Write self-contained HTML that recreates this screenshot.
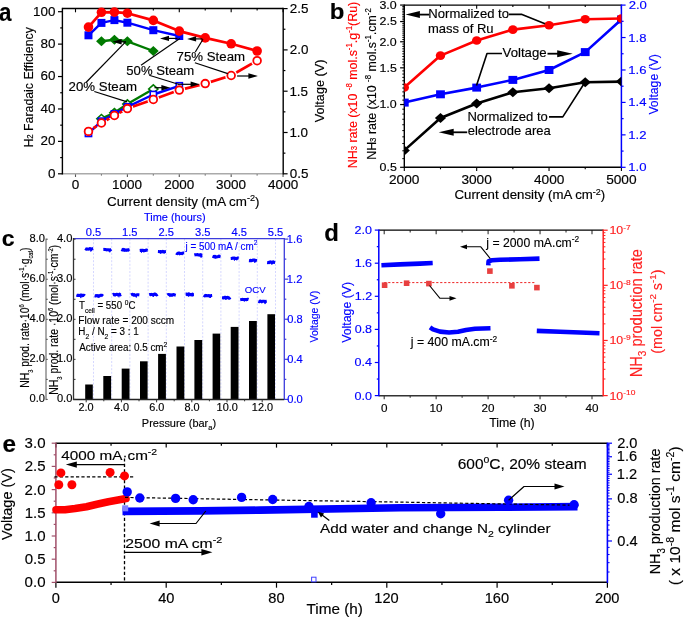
<!DOCTYPE html>
<html><head><meta charset="utf-8"><style>
html,body{margin:0;padding:0;background:#fff;width:685px;height:617px;overflow:hidden}
svg{display:block;filter:blur(0.3px)}
text{font-family:"Liberation Sans",sans-serif}
</style></head><body>
<svg width="685" height="617" viewBox="0 0 685 617">
<rect width="685" height="617" fill="#fff"/>
<line x1="58" y1="173.8" x2="62.4" y2="173.8" stroke="#000" stroke-width="1.2" stroke-linecap="butt"/>
<line x1="60.2" y1="157.59" x2="62.4" y2="157.59" stroke="#000" stroke-width="1.2" stroke-linecap="butt"/>
<line x1="58" y1="141.38" x2="62.4" y2="141.38" stroke="#000" stroke-width="1.2" stroke-linecap="butt"/>
<line x1="60.2" y1="125.17" x2="62.4" y2="125.17" stroke="#000" stroke-width="1.2" stroke-linecap="butt"/>
<line x1="58" y1="108.96" x2="62.4" y2="108.96" stroke="#000" stroke-width="1.2" stroke-linecap="butt"/>
<line x1="60.2" y1="92.75" x2="62.4" y2="92.75" stroke="#000" stroke-width="1.2" stroke-linecap="butt"/>
<line x1="58" y1="76.54" x2="62.4" y2="76.54" stroke="#000" stroke-width="1.2" stroke-linecap="butt"/>
<line x1="60.2" y1="60.33" x2="62.4" y2="60.33" stroke="#000" stroke-width="1.2" stroke-linecap="butt"/>
<line x1="58" y1="44.12" x2="62.4" y2="44.12" stroke="#000" stroke-width="1.2" stroke-linecap="butt"/>
<line x1="60.2" y1="27.91" x2="62.4" y2="27.91" stroke="#000" stroke-width="1.2" stroke-linecap="butt"/>
<line x1="58" y1="11.7" x2="62.4" y2="11.7" stroke="#000" stroke-width="1.2" stroke-linecap="butt"/>
<line x1="283.2" y1="173.8" x2="287.6" y2="173.8" stroke="#000" stroke-width="1.2" stroke-linecap="butt"/>
<line x1="283.2" y1="153.15" x2="285.4" y2="153.15" stroke="#000" stroke-width="1.2" stroke-linecap="butt"/>
<line x1="283.2" y1="132.5" x2="287.6" y2="132.5" stroke="#000" stroke-width="1.2" stroke-linecap="butt"/>
<line x1="283.2" y1="111.85" x2="285.4" y2="111.85" stroke="#000" stroke-width="1.2" stroke-linecap="butt"/>
<line x1="283.2" y1="91.2" x2="287.6" y2="91.2" stroke="#000" stroke-width="1.2" stroke-linecap="butt"/>
<line x1="283.2" y1="70.55" x2="285.4" y2="70.55" stroke="#000" stroke-width="1.2" stroke-linecap="butt"/>
<line x1="283.2" y1="49.9" x2="287.6" y2="49.9" stroke="#000" stroke-width="1.2" stroke-linecap="butt"/>
<line x1="283.2" y1="29.25" x2="285.4" y2="29.25" stroke="#000" stroke-width="1.2" stroke-linecap="butt"/>
<line x1="283.2" y1="8.6" x2="287.6" y2="8.6" stroke="#000" stroke-width="1.2" stroke-linecap="butt"/>
<line x1="75.5" y1="173.8" x2="75.5" y2="177" stroke="#555" stroke-width="1.1" stroke-linecap="butt"/>
<line x1="75.5" y1="8.5" x2="75.5" y2="12.3" stroke="#000" stroke-width="1.1" stroke-linecap="butt"/>
<line x1="101.44" y1="173.8" x2="101.44" y2="175.6" stroke="#555" stroke-width="1.1" stroke-linecap="butt"/>
<line x1="101.44" y1="8.5" x2="101.44" y2="10.5" stroke="#000" stroke-width="1.1" stroke-linecap="butt"/>
<line x1="127.39" y1="173.8" x2="127.39" y2="177" stroke="#555" stroke-width="1.1" stroke-linecap="butt"/>
<line x1="127.39" y1="8.5" x2="127.39" y2="12.3" stroke="#000" stroke-width="1.1" stroke-linecap="butt"/>
<line x1="153.33" y1="173.8" x2="153.33" y2="175.6" stroke="#555" stroke-width="1.1" stroke-linecap="butt"/>
<line x1="153.33" y1="8.5" x2="153.33" y2="10.5" stroke="#000" stroke-width="1.1" stroke-linecap="butt"/>
<line x1="179.28" y1="173.8" x2="179.28" y2="177" stroke="#555" stroke-width="1.1" stroke-linecap="butt"/>
<line x1="179.28" y1="8.5" x2="179.28" y2="12.3" stroke="#000" stroke-width="1.1" stroke-linecap="butt"/>
<line x1="205.22" y1="173.8" x2="205.22" y2="175.6" stroke="#555" stroke-width="1.1" stroke-linecap="butt"/>
<line x1="205.22" y1="8.5" x2="205.22" y2="10.5" stroke="#000" stroke-width="1.1" stroke-linecap="butt"/>
<line x1="231.17" y1="173.8" x2="231.17" y2="177" stroke="#555" stroke-width="1.1" stroke-linecap="butt"/>
<line x1="231.17" y1="8.5" x2="231.17" y2="12.3" stroke="#000" stroke-width="1.1" stroke-linecap="butt"/>
<line x1="257.12" y1="173.8" x2="257.12" y2="175.6" stroke="#555" stroke-width="1.1" stroke-linecap="butt"/>
<line x1="257.12" y1="8.5" x2="257.12" y2="10.5" stroke="#000" stroke-width="1.1" stroke-linecap="butt"/>
<line x1="283.06" y1="173.8" x2="283.06" y2="177" stroke="#555" stroke-width="1.1" stroke-linecap="butt"/>
<line x1="283.06" y1="8.5" x2="283.06" y2="12.3" stroke="#000" stroke-width="1.1" stroke-linecap="butt"/>
<line x1="62.4" y1="173.8" x2="283.2" y2="173.8" stroke="#aaa" stroke-width="1.4" stroke-linecap="butt"/>
<line x1="62.4" y1="7.8" x2="62.4" y2="174.5" stroke="#000" stroke-width="1.4" stroke-linecap="butt"/>
<line x1="62.4" y1="8.5" x2="283.2" y2="8.5" stroke="#000" stroke-width="1.4" stroke-linecap="butt"/>
<line x1="283.2" y1="7.8" x2="283.2" y2="174.5" stroke="#000" stroke-width="1.4" stroke-linecap="butt"/>
<text transform="translate(48.01 177.68) scale(1.050 1)" font-size="12.80" stroke="#000" stroke-width="0.15"><tspan>0</tspan></text>
<text transform="translate(40.55 145.26) scale(1.050 1)" font-size="12.80" stroke="#000" stroke-width="0.15"><tspan>20</tspan></text>
<text transform="translate(40.55 112.84) scale(1.050 1)" font-size="12.80" stroke="#000" stroke-width="0.15"><tspan>40</tspan></text>
<text transform="translate(40.55 80.42) scale(1.050 1)" font-size="12.80" stroke="#000" stroke-width="0.15"><tspan>60</tspan></text>
<text transform="translate(40.55 48.00) scale(1.050 1)" font-size="12.80" stroke="#000" stroke-width="0.15"><tspan>80</tspan></text>
<text transform="translate(33.09 15.58) scale(1.050 1)" font-size="12.80" stroke="#000" stroke-width="0.15"><tspan>100</tspan></text>
<text transform="translate(289.86 178.28) scale(1.050 1)" font-size="12.80" stroke="#000" stroke-width="0.15"><tspan>0.5</tspan></text>
<text transform="translate(289.39 136.98) scale(1.050 1)" font-size="12.80" stroke="#000" stroke-width="0.15"><tspan>1.0</tspan></text>
<text transform="translate(289.39 95.68) scale(1.050 1)" font-size="12.80" stroke="#000" stroke-width="0.15"><tspan>1.5</tspan></text>
<text transform="translate(289.73 54.38) scale(1.050 1)" font-size="12.80" stroke="#000" stroke-width="0.15"><tspan>2.0</tspan></text>
<text transform="translate(289.73 13.08) scale(1.050 1)" font-size="12.80" stroke="#000" stroke-width="0.15"><tspan>2.5</tspan></text>
<text transform="translate(71.71 188.91) scale(1.100 1)" font-size="12.30" stroke="#000" stroke-width="0.15"><tspan>0</tspan></text>
<text transform="translate(112.07 188.91) scale(1.100 1)" font-size="12.30" stroke="#000" stroke-width="0.15"><tspan>1000</tspan></text>
<text transform="translate(164.13 188.91) scale(1.100 1)" font-size="12.30" stroke="#000" stroke-width="0.15"><tspan>2000</tspan></text>
<text transform="translate(216.08 188.91) scale(1.100 1)" font-size="12.30" stroke="#000" stroke-width="0.15"><tspan>3000</tspan></text>
<text transform="translate(268.11 188.91) scale(1.100 1)" font-size="12.30" stroke="#000" stroke-width="0.15"><tspan>4000</tspan></text>
<text transform="translate(106.98 206.00) scale(0.983 1)" font-size="13.64" stroke="#000" stroke-width="0.15"><tspan>Current density (mA cm</tspan><tspan font-size="9.28" dy="-5.18">-2</tspan><tspan dy="5.18">)</tspan></text>
<text transform="translate(32.90 147.54) rotate(-90) scale(0.942 1)" font-size="13.07" stroke="#000" stroke-width="0.15"><tspan>H</tspan><tspan font-size="8.23" dy="0.00">2</tspan><tspan> Faradaic Efficiency</tspan></text>
<text transform="translate(324.10 122.31) rotate(-90) scale(0.961 1)" font-size="13.21" stroke="#000" stroke-width="0.15"><tspan>Voltage (V)</tspan></text>
<text transform="translate(-1.02 21.30) scale(0.884 1)" font-size="25.37" font-weight="bold" stroke="#000" stroke-width="0.15"><tspan>a</tspan></text>
<polyline points="101.44,41.3 114.42,39.7 127.39,41.3 153.33,51" fill="none" stroke="#007a00" stroke-width="2.4" stroke-linejoin="round" stroke-linecap="butt"/>
<polyline points="101.44,118.7 114.42,112.8 127.39,104 153.33,89" fill="none" stroke="#007a00" stroke-width="2.4" stroke-linejoin="round" stroke-linecap="butt"/>
<polygon points="101.44,36.3 106.84,41.3 101.44,46.3 96.04,41.3" fill="#007a00" stroke="none" stroke-width="0"/>
<polygon points="114.42,34.7 119.82,39.7 114.42,44.7 109.02,39.7" fill="#007a00" stroke="none" stroke-width="0"/>
<polygon points="127.39,36.3 132.79,41.3 127.39,46.3 121.99,41.3" fill="#007a00" stroke="none" stroke-width="0"/>
<polygon points="153.33,46 158.73,51 153.33,56 147.93,51" fill="#007a00" stroke="none" stroke-width="0"/>
<polygon points="101.44,114.5 106.04,118.7 101.44,122.9 96.84,118.7" fill="#fff" stroke="#007a00" stroke-width="1.6"/>
<polygon points="114.42,108.6 119.02,112.8 114.42,117 109.82,112.8" fill="#fff" stroke="#007a00" stroke-width="1.6"/>
<polygon points="127.39,99.8 131.99,104 127.39,108.2 122.79,104" fill="#fff" stroke="#007a00" stroke-width="1.6"/>
<polygon points="153.33,84.8 157.93,89 153.33,93.2 148.73,89" fill="#fff" stroke="#007a00" stroke-width="1.6"/>
<polyline points="88.47,35.3 101.44,22.9 114.42,20.1 127.39,22.7 153.33,30.2 179.28,36" fill="none" stroke="#0000ff" stroke-width="2.4" stroke-linejoin="round" stroke-linecap="butt"/>
<polyline points="88.47,133.4 101.44,121.2 114.42,114 127.39,106.8 153.33,94.5 179.28,85.8" fill="none" stroke="#0000ff" stroke-width="2.4" stroke-linejoin="round" stroke-linecap="butt"/>
<rect x="84.47" y="31.3" width="8" height="8" fill="#0000ff" stroke="none" stroke-width="0"/>
<rect x="97.44" y="18.9" width="8" height="8" fill="#0000ff" stroke="none" stroke-width="0"/>
<rect x="110.42" y="16.1" width="8" height="8" fill="#0000ff" stroke="none" stroke-width="0"/>
<rect x="123.39" y="18.7" width="8" height="8" fill="#0000ff" stroke="none" stroke-width="0"/>
<rect x="149.33" y="26.2" width="8" height="8" fill="#0000ff" stroke="none" stroke-width="0"/>
<rect x="175.28" y="32" width="8" height="8" fill="#0000ff" stroke="none" stroke-width="0"/>
<rect x="85.37" y="130.3" width="6.2" height="6.2" fill="#fff" stroke="#0000ff" stroke-width="1.6"/>
<rect x="98.34" y="118.1" width="6.2" height="6.2" fill="#fff" stroke="#0000ff" stroke-width="1.6"/>
<rect x="111.32" y="110.9" width="6.2" height="6.2" fill="#fff" stroke="#0000ff" stroke-width="1.6"/>
<rect x="124.29" y="103.7" width="6.2" height="6.2" fill="#fff" stroke="#0000ff" stroke-width="1.6"/>
<rect x="150.23" y="91.4" width="6.2" height="6.2" fill="#fff" stroke="#0000ff" stroke-width="1.6"/>
<rect x="176.18" y="82.7" width="6.2" height="6.2" fill="#fff" stroke="#0000ff" stroke-width="1.6"/>
<polyline points="88.47,27.1 101.44,12.3 114.42,12.1 127.39,13.2 153.33,20.4 179.28,31.1 205.22,37.9 231.17,43.8 257.12,51" fill="none" stroke="#ff0000" stroke-width="2.7" stroke-linejoin="round" stroke-linecap="butt"/>
<mask id="mro" maskUnits="userSpaceOnUse" x="0" y="0" width="685" height="617"><rect x="0" y="0" width="685" height="617" fill="#fff"/><circle cx="88.47" cy="131.4" r="6" fill="#000"/><circle cx="101.44" cy="123" r="6" fill="#000"/><circle cx="114.42" cy="115.5" r="6" fill="#000"/><circle cx="127.39" cy="108.6" r="6" fill="#000"/><circle cx="153.33" cy="99.5" r="6" fill="#000"/><circle cx="179.28" cy="90.1" r="6" fill="#000"/><circle cx="205.22" cy="83.6" r="6" fill="#000"/><circle cx="231.17" cy="75.5" r="6" fill="#000"/><circle cx="257.12" cy="60.7" r="6" fill="#000"/></mask>
<polyline points="88.47,131.4 101.44,123 114.42,115.5 127.39,108.6 153.33,99.5 179.28,90.1 205.22,83.6 231.17,75.5 257.12,60.7" fill="none" stroke="#ff0000" stroke-width="2.7" stroke-linejoin="round" mask="url(#mro)"/>
<circle cx="88.47" cy="27.1" r="4.8" fill="#ff0000" stroke="none" stroke-width="0"/>
<circle cx="101.44" cy="12.3" r="4.8" fill="#ff0000" stroke="none" stroke-width="0"/>
<circle cx="114.42" cy="12.1" r="4.8" fill="#ff0000" stroke="none" stroke-width="0"/>
<circle cx="127.39" cy="13.2" r="4.8" fill="#ff0000" stroke="none" stroke-width="0"/>
<circle cx="153.33" cy="20.4" r="4.8" fill="#ff0000" stroke="none" stroke-width="0"/>
<circle cx="179.28" cy="31.1" r="4.8" fill="#ff0000" stroke="none" stroke-width="0"/>
<circle cx="205.22" cy="37.9" r="4.8" fill="#ff0000" stroke="none" stroke-width="0"/>
<circle cx="231.17" cy="43.8" r="4.8" fill="#ff0000" stroke="none" stroke-width="0"/>
<circle cx="257.12" cy="51" r="4.8" fill="#ff0000" stroke="none" stroke-width="0"/>
<circle cx="88.47" cy="131.4" r="3.85" fill="#fff" stroke="#ff0000" stroke-width="1.8"/>
<circle cx="101.44" cy="123" r="3.85" fill="#fff" stroke="#ff0000" stroke-width="1.8"/>
<circle cx="114.42" cy="115.5" r="3.85" fill="#fff" stroke="#ff0000" stroke-width="1.8"/>
<circle cx="127.39" cy="108.6" r="3.85" fill="#fff" stroke="#ff0000" stroke-width="1.8"/>
<circle cx="153.33" cy="99.5" r="3.85" fill="#fff" stroke="#ff0000" stroke-width="1.8"/>
<circle cx="179.28" cy="90.1" r="3.85" fill="#fff" stroke="#ff0000" stroke-width="1.8"/>
<circle cx="205.22" cy="83.6" r="3.85" fill="#fff" stroke="#ff0000" stroke-width="1.8"/>
<circle cx="231.17" cy="75.5" r="3.85" fill="#fff" stroke="#ff0000" stroke-width="1.8"/>
<circle cx="257.12" cy="60.7" r="3.85" fill="#fff" stroke="#ff0000" stroke-width="1.8"/>
<text transform="translate(68.59 91.00) scale(1.100 1)" font-size="12.07" stroke="#000" stroke-width="0.15"><tspan>20% Steam</tspan></text>
<text transform="translate(126.32 74.90) scale(1.040 1)" font-size="12.64" stroke="#000" stroke-width="0.15"><tspan>50% Steam</tspan></text>
<text transform="translate(176.59 61.00) scale(1.060 1)" font-size="12.50" stroke="#000" stroke-width="0.15"><tspan>75% Steam</tspan></text>
<polyline points="86,82.5 125.6,41.8" fill="none" stroke="#000" stroke-width="1.2" stroke-linejoin="round" stroke-linecap="butt"/>
<line x1="126" y1="41.8" x2="120.6" y2="41.8" stroke="#000" stroke-width="1.2" stroke-linecap="butt"/>
<polygon points="112.6,41.8 121.6,39.1 121.6,44.5" fill="#000" stroke="none" stroke-width="0"/>
<polyline points="94.3,91.5 127.2,101.9" fill="none" stroke="#000" stroke-width="1.2" stroke-linejoin="round" stroke-linecap="butt"/>
<polyline points="141,65.2 179.8,38.4" fill="none" stroke="#000" stroke-width="1.2" stroke-linejoin="round" stroke-linecap="butt"/>
<line x1="177.5" y1="38.4" x2="168" y2="38.4" stroke="#000" stroke-width="1.2" stroke-linecap="butt"/>
<polygon points="160,38.4 169,35.7 169,41.1" fill="#000" stroke="none" stroke-width="0"/>
<polyline points="149.2,75.2 178.4,84.3" fill="none" stroke="#000" stroke-width="1.2" stroke-linejoin="round" stroke-linecap="butt"/>
<line x1="178" y1="84.3" x2="191.6" y2="84.3" stroke="#000" stroke-width="1.2" stroke-linecap="butt"/>
<polygon points="199.6,84.3 190.6,87 190.6,81.6" fill="#000" stroke="none" stroke-width="0"/>
<line x1="154.5" y1="87.7" x2="162.4" y2="87.7" stroke="#000" stroke-width="1.2" stroke-linecap="butt"/>
<polygon points="170.4,87.7 161.4,90.4 161.4,85" fill="#000" stroke="none" stroke-width="0"/>
<polyline points="195.3,52 203,39.2" fill="none" stroke="#000" stroke-width="1.2" stroke-linejoin="round" stroke-linecap="butt"/>
<line x1="202.4" y1="38.9" x2="195.1" y2="38.9" stroke="#000" stroke-width="1.2" stroke-linecap="butt"/>
<polygon points="187.1,38.9 196.1,36.2 196.1,41.6" fill="#000" stroke="none" stroke-width="0"/>
<polyline points="194.9,62.7 227.8,73.6" fill="none" stroke="#000" stroke-width="1.2" stroke-linejoin="round" stroke-linecap="butt"/>
<line x1="237.1" y1="76" x2="249.4" y2="76" stroke="#000" stroke-width="1.2" stroke-linecap="butt"/>
<polygon points="257.9,76 248.4,78.8 248.4,73.2" fill="#000" stroke="none" stroke-width="0"/>
<line x1="400.1" y1="167.3" x2="404.3" y2="167.3" stroke="#000" stroke-width="1.2" stroke-linecap="butt"/>
<line x1="402.3" y1="158.67" x2="404.3" y2="158.67" stroke="#000" stroke-width="1.0" stroke-linecap="butt"/>
<line x1="402.3" y1="150.79" x2="404.3" y2="150.79" stroke="#000" stroke-width="1.0" stroke-linecap="butt"/>
<line x1="402.3" y1="143.54" x2="404.3" y2="143.54" stroke="#000" stroke-width="1.0" stroke-linecap="butt"/>
<line x1="402.3" y1="136.83" x2="404.3" y2="136.83" stroke="#000" stroke-width="1.0" stroke-linecap="butt"/>
<line x1="402.3" y1="130.58" x2="404.3" y2="130.58" stroke="#000" stroke-width="1.0" stroke-linecap="butt"/>
<line x1="402.3" y1="124.74" x2="404.3" y2="124.74" stroke="#000" stroke-width="1.0" stroke-linecap="butt"/>
<line x1="402.3" y1="119.25" x2="404.3" y2="119.25" stroke="#000" stroke-width="1.0" stroke-linecap="butt"/>
<line x1="402.3" y1="114.08" x2="404.3" y2="114.08" stroke="#000" stroke-width="1.0" stroke-linecap="butt"/>
<line x1="402.3" y1="109.18" x2="404.3" y2="109.18" stroke="#000" stroke-width="1.0" stroke-linecap="butt"/>
<line x1="400.1" y1="104.54" x2="404.3" y2="104.54" stroke="#000" stroke-width="1.2" stroke-linecap="butt"/>
<line x1="402.3" y1="100.12" x2="404.3" y2="100.12" stroke="#000" stroke-width="1.0" stroke-linecap="butt"/>
<line x1="402.3" y1="95.9" x2="404.3" y2="95.9" stroke="#000" stroke-width="1.0" stroke-linecap="butt"/>
<line x1="402.3" y1="91.88" x2="404.3" y2="91.88" stroke="#000" stroke-width="1.0" stroke-linecap="butt"/>
<line x1="402.3" y1="88.03" x2="404.3" y2="88.03" stroke="#000" stroke-width="1.0" stroke-linecap="butt"/>
<line x1="402.3" y1="84.33" x2="404.3" y2="84.33" stroke="#000" stroke-width="1.0" stroke-linecap="butt"/>
<line x1="402.3" y1="80.78" x2="404.3" y2="80.78" stroke="#000" stroke-width="1.0" stroke-linecap="butt"/>
<line x1="402.3" y1="77.36" x2="404.3" y2="77.36" stroke="#000" stroke-width="1.0" stroke-linecap="butt"/>
<line x1="402.3" y1="74.07" x2="404.3" y2="74.07" stroke="#000" stroke-width="1.0" stroke-linecap="butt"/>
<line x1="402.3" y1="70.89" x2="404.3" y2="70.89" stroke="#000" stroke-width="1.0" stroke-linecap="butt"/>
<line x1="400.1" y1="67.82" x2="404.3" y2="67.82" stroke="#000" stroke-width="1.2" stroke-linecap="butt"/>
<line x1="402.3" y1="64.85" x2="404.3" y2="64.85" stroke="#000" stroke-width="1.0" stroke-linecap="butt"/>
<line x1="402.3" y1="61.98" x2="404.3" y2="61.98" stroke="#000" stroke-width="1.0" stroke-linecap="butt"/>
<line x1="402.3" y1="59.19" x2="404.3" y2="59.19" stroke="#000" stroke-width="1.0" stroke-linecap="butt"/>
<line x1="402.3" y1="56.49" x2="404.3" y2="56.49" stroke="#000" stroke-width="1.0" stroke-linecap="butt"/>
<line x1="402.3" y1="53.86" x2="404.3" y2="53.86" stroke="#000" stroke-width="1.0" stroke-linecap="butt"/>
<line x1="402.3" y1="51.31" x2="404.3" y2="51.31" stroke="#000" stroke-width="1.0" stroke-linecap="butt"/>
<line x1="402.3" y1="48.83" x2="404.3" y2="48.83" stroke="#000" stroke-width="1.0" stroke-linecap="butt"/>
<line x1="402.3" y1="46.42" x2="404.3" y2="46.42" stroke="#000" stroke-width="1.0" stroke-linecap="butt"/>
<line x1="402.3" y1="44.06" x2="404.3" y2="44.06" stroke="#000" stroke-width="1.0" stroke-linecap="butt"/>
<line x1="400.1" y1="41.77" x2="404.3" y2="41.77" stroke="#000" stroke-width="1.2" stroke-linecap="butt"/>
<line x1="402.3" y1="39.53" x2="404.3" y2="39.53" stroke="#000" stroke-width="1.0" stroke-linecap="butt"/>
<line x1="402.3" y1="37.35" x2="404.3" y2="37.35" stroke="#000" stroke-width="1.0" stroke-linecap="butt"/>
<line x1="402.3" y1="35.22" x2="404.3" y2="35.22" stroke="#000" stroke-width="1.0" stroke-linecap="butt"/>
<line x1="402.3" y1="33.14" x2="404.3" y2="33.14" stroke="#000" stroke-width="1.0" stroke-linecap="butt"/>
<line x1="402.3" y1="31.11" x2="404.3" y2="31.11" stroke="#000" stroke-width="1.0" stroke-linecap="butt"/>
<line x1="402.3" y1="29.11" x2="404.3" y2="29.11" stroke="#000" stroke-width="1.0" stroke-linecap="butt"/>
<line x1="402.3" y1="27.17" x2="404.3" y2="27.17" stroke="#000" stroke-width="1.0" stroke-linecap="butt"/>
<line x1="402.3" y1="25.26" x2="404.3" y2="25.26" stroke="#000" stroke-width="1.0" stroke-linecap="butt"/>
<line x1="402.3" y1="23.39" x2="404.3" y2="23.39" stroke="#000" stroke-width="1.0" stroke-linecap="butt"/>
<line x1="400.1" y1="21.56" x2="404.3" y2="21.56" stroke="#000" stroke-width="1.2" stroke-linecap="butt"/>
<line x1="402.3" y1="19.77" x2="404.3" y2="19.77" stroke="#000" stroke-width="1.0" stroke-linecap="butt"/>
<line x1="402.3" y1="18.01" x2="404.3" y2="18.01" stroke="#000" stroke-width="1.0" stroke-linecap="butt"/>
<line x1="402.3" y1="16.29" x2="404.3" y2="16.29" stroke="#000" stroke-width="1.0" stroke-linecap="butt"/>
<line x1="402.3" y1="14.6" x2="404.3" y2="14.6" stroke="#000" stroke-width="1.0" stroke-linecap="butt"/>
<line x1="402.3" y1="12.93" x2="404.3" y2="12.93" stroke="#000" stroke-width="1.0" stroke-linecap="butt"/>
<line x1="402.3" y1="11.3" x2="404.3" y2="11.3" stroke="#000" stroke-width="1.0" stroke-linecap="butt"/>
<line x1="402.3" y1="9.7" x2="404.3" y2="9.7" stroke="#000" stroke-width="1.0" stroke-linecap="butt"/>
<line x1="402.3" y1="8.13" x2="404.3" y2="8.13" stroke="#000" stroke-width="1.0" stroke-linecap="butt"/>
<line x1="402.3" y1="6.58" x2="404.3" y2="6.58" stroke="#000" stroke-width="1.0" stroke-linecap="butt"/>
<line x1="400.1" y1="5.06" x2="404.3" y2="5.06" stroke="#000" stroke-width="1.2" stroke-linecap="butt"/>
<line x1="621.4" y1="167.3" x2="625.6" y2="167.3" stroke="#0000ff" stroke-width="1.2" stroke-linecap="butt"/>
<line x1="621.4" y1="151.08" x2="623.6" y2="151.08" stroke="#0000ff" stroke-width="1.2" stroke-linecap="butt"/>
<line x1="621.4" y1="134.86" x2="625.6" y2="134.86" stroke="#0000ff" stroke-width="1.2" stroke-linecap="butt"/>
<line x1="621.4" y1="118.64" x2="623.6" y2="118.64" stroke="#0000ff" stroke-width="1.2" stroke-linecap="butt"/>
<line x1="621.4" y1="102.42" x2="625.6" y2="102.42" stroke="#0000ff" stroke-width="1.2" stroke-linecap="butt"/>
<line x1="621.4" y1="86.2" x2="623.6" y2="86.2" stroke="#0000ff" stroke-width="1.2" stroke-linecap="butt"/>
<line x1="621.4" y1="69.98" x2="625.6" y2="69.98" stroke="#0000ff" stroke-width="1.2" stroke-linecap="butt"/>
<line x1="621.4" y1="53.76" x2="623.6" y2="53.76" stroke="#0000ff" stroke-width="1.2" stroke-linecap="butt"/>
<line x1="621.4" y1="37.54" x2="625.6" y2="37.54" stroke="#0000ff" stroke-width="1.2" stroke-linecap="butt"/>
<line x1="621.4" y1="21.32" x2="623.6" y2="21.32" stroke="#0000ff" stroke-width="1.2" stroke-linecap="butt"/>
<line x1="621.4" y1="5.1" x2="625.6" y2="5.1" stroke="#0000ff" stroke-width="1.2" stroke-linecap="butt"/>
<line x1="404.3" y1="167.3" x2="404.3" y2="170.9" stroke="#000" stroke-width="1.1" stroke-linecap="butt"/>
<line x1="404.3" y1="5.1" x2="404.3" y2="8.7" stroke="#000" stroke-width="1.1" stroke-linecap="butt"/>
<line x1="440.49" y1="167.3" x2="440.49" y2="169.3" stroke="#000" stroke-width="1.1" stroke-linecap="butt"/>
<line x1="440.49" y1="5.1" x2="440.49" y2="7.1" stroke="#000" stroke-width="1.1" stroke-linecap="butt"/>
<line x1="476.67" y1="167.3" x2="476.67" y2="170.9" stroke="#000" stroke-width="1.1" stroke-linecap="butt"/>
<line x1="476.67" y1="5.1" x2="476.67" y2="8.7" stroke="#000" stroke-width="1.1" stroke-linecap="butt"/>
<line x1="512.86" y1="167.3" x2="512.86" y2="169.3" stroke="#000" stroke-width="1.1" stroke-linecap="butt"/>
<line x1="512.86" y1="5.1" x2="512.86" y2="7.1" stroke="#000" stroke-width="1.1" stroke-linecap="butt"/>
<line x1="549.04" y1="167.3" x2="549.04" y2="170.9" stroke="#000" stroke-width="1.1" stroke-linecap="butt"/>
<line x1="549.04" y1="5.1" x2="549.04" y2="8.7" stroke="#000" stroke-width="1.1" stroke-linecap="butt"/>
<line x1="585.23" y1="167.3" x2="585.23" y2="169.3" stroke="#000" stroke-width="1.1" stroke-linecap="butt"/>
<line x1="585.23" y1="5.1" x2="585.23" y2="7.1" stroke="#000" stroke-width="1.1" stroke-linecap="butt"/>
<line x1="621.41" y1="167.3" x2="621.41" y2="170.9" stroke="#000" stroke-width="1.1" stroke-linecap="butt"/>
<line x1="621.41" y1="5.1" x2="621.41" y2="8.7" stroke="#000" stroke-width="1.1" stroke-linecap="butt"/>
<line x1="404.3" y1="167.3" x2="621.4" y2="167.3" stroke="#000" stroke-width="1.4" stroke-linecap="butt"/>
<line x1="404.3" y1="5.1" x2="621.4" y2="5.1" stroke="#000" stroke-width="1.4" stroke-linecap="butt"/>
<line x1="404.3" y1="4.4" x2="404.3" y2="168" stroke="#000" stroke-width="1.4" stroke-linecap="butt"/>
<line x1="621.4" y1="4.4" x2="621.4" y2="168" stroke="#0000ff" stroke-width="1.5" stroke-linecap="butt"/>
<text transform="translate(379.53 171.08) scale(1.150 1)" font-size="10.80" stroke="#000" stroke-width="0.15"><tspan>0.5</tspan></text>
<text transform="translate(379.47 108.32) scale(1.150 1)" font-size="10.80" stroke="#000" stroke-width="0.15"><tspan>1.0</tspan></text>
<text transform="translate(379.53 71.60) scale(1.150 1)" font-size="10.80" stroke="#000" stroke-width="0.15"><tspan>1.5</tspan></text>
<text transform="translate(379.47 45.55) scale(1.150 1)" font-size="10.80" stroke="#000" stroke-width="0.15"><tspan>2.0</tspan></text>
<text transform="translate(379.53 25.34) scale(1.150 1)" font-size="10.80" stroke="#000" stroke-width="0.15"><tspan>2.5</tspan></text>
<text transform="translate(379.47 8.84) scale(1.150 1)" font-size="10.80" stroke="#000" stroke-width="0.15"><tspan>3.0</tspan></text>
<text transform="translate(628.32 171.29) scale(1.150 1)" font-size="11.40" fill="#0000ff" stroke="#0000ff" stroke-width="0.15"><tspan>1.0</tspan></text>
<text transform="translate(628.32 138.85) scale(1.150 1)" font-size="11.40" fill="#0000ff" stroke="#0000ff" stroke-width="0.15"><tspan>1.2</tspan></text>
<text transform="translate(628.32 106.41) scale(1.150 1)" font-size="11.40" fill="#0000ff" stroke="#0000ff" stroke-width="0.15"><tspan>1.4</tspan></text>
<text transform="translate(628.32 73.97) scale(1.150 1)" font-size="11.40" fill="#0000ff" stroke="#0000ff" stroke-width="0.15"><tspan>1.6</tspan></text>
<text transform="translate(628.32 41.53) scale(1.150 1)" font-size="11.40" fill="#0000ff" stroke="#0000ff" stroke-width="0.15"><tspan>1.8</tspan></text>
<text transform="translate(628.64 9.09) scale(1.150 1)" font-size="11.40" fill="#0000ff" stroke="#0000ff" stroke-width="0.15"><tspan>2.0</tspan></text>
<text transform="translate(388.97 183.83) scale(1.150 1)" font-size="11.90" stroke="#000" stroke-width="0.15"><tspan>2000</tspan></text>
<text transform="translate(461.41 183.83) scale(1.150 1)" font-size="11.90" stroke="#000" stroke-width="0.15"><tspan>3000</tspan></text>
<text transform="translate(533.92 183.83) scale(1.150 1)" font-size="11.90" stroke="#000" stroke-width="0.15"><tspan>4000</tspan></text>
<text transform="translate(606.15 183.83) scale(1.150 1)" font-size="11.90" stroke="#000" stroke-width="0.15"><tspan>5000</tspan></text>
<text transform="translate(454.49 199.40) scale(1.060 1)" font-size="12.50" stroke="#000" stroke-width="0.15"><tspan>Current density (mA cm</tspan><tspan font-size="8.50" dy="-4.75">-2</tspan><tspan dy="4.75">)</tspan></text>
<text transform="translate(375.50 159.74) rotate(-90) scale(0.957 1)" font-size="12.93" stroke="#000" stroke-width="0.15"><tspan>NH</tspan><tspan font-size="8.14" dy="0.00">3</tspan><tspan> rate (x10 </tspan><tspan font-size="8.14" dy="-4.91">-8</tspan><tspan dy="4.91"> mol.s</tspan><tspan font-size="8.14" dy="-4.91">-1</tspan><tspan dy="4.91">.cm</tspan><tspan font-size="8.14" dy="-4.91">-2</tspan></text>
<text transform="translate(357.30 168.24) rotate(-90) scale(0.949 1)" font-size="13.07" fill="#ff0000" stroke="#ff0000" stroke-width="0.15"><tspan>NH</tspan><tspan font-size="8.24" dy="0.00">3</tspan><tspan> rate (x10 </tspan><tspan font-size="8.24" dy="-4.97">-8</tspan><tspan dy="4.97"> mol.s</tspan><tspan font-size="8.24" dy="-4.97">-1</tspan><tspan dy="4.97">.g</tspan><tspan font-size="8.24" dy="-4.97">-1</tspan><tspan dy="4.97">(Ru)</tspan></text>
<text transform="translate(657.80 114.61) rotate(-90) scale(0.927 1)" font-size="13.21" fill="#0000ff" stroke="#0000ff" stroke-width="0.15"><tspan>Voltage (V)</tspan></text>
<text transform="translate(329.69 19.40) scale(1.096 1)" font-size="21.86" font-weight="bold" stroke="#000" stroke-width="0.15"><tspan>b</tspan></text>
<clipPath id="cb"><rect x="404.3" y="5.1" width="217.1" height="162.2"/></clipPath><g clip-path="url(#cb)">
<polyline points="404.3,150.4 440.49,118 476.67,103.5 512.86,92.3 549.04,88.2 585.23,82.2 621.41,81.6" fill="none" stroke="#000" stroke-width="2.6" stroke-linejoin="round" stroke-linecap="butt"/>
<polygon points="404.3,145.4 409.9,150.4 404.3,155.4 398.7,150.4" fill="#000" stroke="none" stroke-width="0"/>
<polygon points="440.49,113 446.09,118 440.49,123 434.88,118" fill="#000" stroke="none" stroke-width="0"/>
<polygon points="476.67,98.5 482.27,103.5 476.67,108.5 471.07,103.5" fill="#000" stroke="none" stroke-width="0"/>
<polygon points="512.86,87.3 518.46,92.3 512.86,97.3 507.25,92.3" fill="#000" stroke="none" stroke-width="0"/>
<polygon points="549.04,83.2 554.64,88.2 549.04,93.2 543.44,88.2" fill="#000" stroke="none" stroke-width="0"/>
<polygon points="585.23,77.2 590.83,82.2 585.23,87.2 579.62,82.2" fill="#000" stroke="none" stroke-width="0"/>
<polygon points="621.41,76.6 627.01,81.6 621.41,86.6 615.81,81.6" fill="#000" stroke="none" stroke-width="0"/>
<polyline points="404.3,102.6 440.49,94.3 476.67,87.6 512.86,79.9 549.04,70 585.23,52.1 621.41,19.5" fill="none" stroke="#0000ff" stroke-width="2.6" stroke-linejoin="round" stroke-linecap="butt"/>
<rect x="399.9" y="98.6" width="8.8" height="8" fill="#0000ff" stroke="none" stroke-width="0"/>
<rect x="436.09" y="90.3" width="8.8" height="8" fill="#0000ff" stroke="none" stroke-width="0"/>
<rect x="472.27" y="83.6" width="8.8" height="8" fill="#0000ff" stroke="none" stroke-width="0"/>
<rect x="508.46" y="75.9" width="8.8" height="8" fill="#0000ff" stroke="none" stroke-width="0"/>
<rect x="544.64" y="66" width="8.8" height="8" fill="#0000ff" stroke="none" stroke-width="0"/>
<rect x="580.83" y="48.1" width="8.8" height="8" fill="#0000ff" stroke="none" stroke-width="0"/>
<rect x="617.01" y="15.5" width="8.8" height="8" fill="#0000ff" stroke="none" stroke-width="0"/>
<polyline points="404.3,87.5 440.49,55.6 476.67,40.5 512.86,29.6 549.04,25.2 585.23,19.3 621.41,18.5" fill="none" stroke="#ff0000" stroke-width="2.6" stroke-linejoin="round" stroke-linecap="butt"/>
<ellipse cx="404.3" cy="87.5" rx="4.7" ry="4.3" fill="#ff0000" stroke="none" stroke-width="0"/>
<ellipse cx="440.49" cy="55.6" rx="4.7" ry="4.3" fill="#ff0000" stroke="none" stroke-width="0"/>
<ellipse cx="476.67" cy="40.5" rx="4.7" ry="4.3" fill="#ff0000" stroke="none" stroke-width="0"/>
<ellipse cx="512.86" cy="29.6" rx="4.7" ry="4.3" fill="#ff0000" stroke="none" stroke-width="0"/>
<ellipse cx="549.04" cy="25.2" rx="4.7" ry="4.3" fill="#ff0000" stroke="none" stroke-width="0"/>
<ellipse cx="585.23" cy="19.3" rx="4.7" ry="4.3" fill="#ff0000" stroke="none" stroke-width="0"/>
<ellipse cx="621.41" cy="18.5" rx="4.7" ry="4.3" fill="#ff0000" stroke="none" stroke-width="0"/>
</g>
<text transform="translate(428.30 18.10) scale(1.097 1)" font-size="11.93" stroke="#000" stroke-width="0.15"><tspan>Normalized to</tspan></text>
<text transform="translate(427.91 32.70) scale(1.089 1)" font-size="11.93" stroke="#000" stroke-width="0.15"><tspan>mass of Ru</tspan></text>
<line x1="429.2" y1="14.6" x2="418.9" y2="14.6" stroke="#000" stroke-width="1.8" stroke-linecap="butt"/>
<polygon points="405.5,14.6 419.9,11.1 419.9,18.1" fill="#000" stroke="none" stroke-width="0"/>
<polyline points="508.8,14.4 522,14.4 545,23.8" fill="none" stroke="#000" stroke-width="1.6" stroke-linejoin="round" stroke-linecap="butt"/>
<text transform="translate(502.58 56.50) scale(1.067 1)" font-size="12.36" stroke="#000" stroke-width="0.15"><tspan>Voltage</tspan></text>
<line x1="547.5" y1="53.7" x2="558.2" y2="53.7" stroke="#000" stroke-width="1.8" stroke-linecap="butt"/>
<polygon points="572.7,53.7 557.2,57.2 557.2,50.2" fill="#000" stroke="none" stroke-width="0"/>
<polyline points="502,53.5 487,53.5 476.5,85.5" fill="none" stroke="#000" stroke-width="1.6" stroke-linejoin="round" stroke-linecap="butt"/>
<text transform="translate(467.41 121.00) scale(0.967 1)" font-size="13.50" stroke="#000" stroke-width="0.15"><tspan>Normalized to</tspan></text>
<text transform="translate(467.73 135.40) scale(0.994 1)" font-size="13.07" stroke="#000" stroke-width="0.15"><tspan>electrode area</tspan></text>
<line x1="467.2" y1="132.3" x2="452.7" y2="132.3" stroke="#000" stroke-width="1.8" stroke-linecap="butt"/>
<polygon points="438.7,132.3 453.7,128.8 453.7,135.8" fill="#000" stroke="none" stroke-width="0"/>
<polyline points="549,116.9 562.8,116.9 584.5,83" fill="none" stroke="#000" stroke-width="1.6" stroke-linejoin="round" stroke-linecap="butt"/>
<line x1="93.5" y1="238.6" x2="93.5" y2="399.5" stroke="#b8bcff" stroke-width="0.6" stroke-linecap="butt" stroke-dasharray="2,1.6"/>
<line x1="111.7" y1="238.6" x2="111.7" y2="399.5" stroke="#b8bcff" stroke-width="0.6" stroke-linecap="butt" stroke-dasharray="2,1.6"/>
<line x1="129.9" y1="238.6" x2="129.9" y2="399.5" stroke="#b8bcff" stroke-width="0.6" stroke-linecap="butt" stroke-dasharray="2,1.6"/>
<line x1="148.1" y1="238.6" x2="148.1" y2="399.5" stroke="#b8bcff" stroke-width="0.6" stroke-linecap="butt" stroke-dasharray="2,1.6"/>
<line x1="166.3" y1="238.6" x2="166.3" y2="399.5" stroke="#b8bcff" stroke-width="0.6" stroke-linecap="butt" stroke-dasharray="2,1.6"/>
<line x1="184.5" y1="238.6" x2="184.5" y2="399.5" stroke="#b8bcff" stroke-width="0.6" stroke-linecap="butt" stroke-dasharray="2,1.6"/>
<line x1="202.7" y1="238.6" x2="202.7" y2="399.5" stroke="#b8bcff" stroke-width="0.6" stroke-linecap="butt" stroke-dasharray="2,1.6"/>
<line x1="220.9" y1="238.6" x2="220.9" y2="399.5" stroke="#b8bcff" stroke-width="0.6" stroke-linecap="butt" stroke-dasharray="2,1.6"/>
<line x1="239.1" y1="238.6" x2="239.1" y2="399.5" stroke="#b8bcff" stroke-width="0.6" stroke-linecap="butt" stroke-dasharray="2,1.6"/>
<line x1="257.3" y1="238.6" x2="257.3" y2="399.5" stroke="#b8bcff" stroke-width="0.6" stroke-linecap="butt" stroke-dasharray="2,1.6"/>
<line x1="275.5" y1="238.6" x2="275.5" y2="399.5" stroke="#b8bcff" stroke-width="0.6" stroke-linecap="butt" stroke-dasharray="2,1.6"/>
<rect x="85.2" y="384.5" width="7.6" height="15" fill="#000" stroke="none" stroke-width="0"/>
<rect x="103.3" y="376" width="7.8" height="23.5" fill="#000" stroke="none" stroke-width="0"/>
<rect x="121.7" y="368.6" width="7.8" height="30.9" fill="#000" stroke="none" stroke-width="0"/>
<rect x="140" y="361.3" width="7.6" height="38.2" fill="#000" stroke="none" stroke-width="0"/>
<rect x="158.1" y="353.9" width="7.8" height="45.6" fill="#000" stroke="none" stroke-width="0"/>
<rect x="176.5" y="346.5" width="7.8" height="53" fill="#000" stroke="none" stroke-width="0"/>
<rect x="194.4" y="340" width="7.8" height="59.5" fill="#000" stroke="none" stroke-width="0"/>
<rect x="212.6" y="333.6" width="7.6" height="65.9" fill="#000" stroke="none" stroke-width="0"/>
<rect x="230.7" y="326.9" width="7.8" height="72.6" fill="#000" stroke="none" stroke-width="0"/>
<rect x="249" y="321" width="7.8" height="78.5" fill="#000" stroke="none" stroke-width="0"/>
<rect x="267.4" y="314.2" width="7.6" height="85.3" fill="#000" stroke="none" stroke-width="0"/>
<line x1="73.5" y1="238.6" x2="284.3" y2="238.6" stroke="#3c3cdc" stroke-width="1.3" stroke-linecap="butt"/>
<line x1="284.3" y1="238" x2="284.3" y2="400.1" stroke="#3c3cdc" stroke-width="1.3" stroke-linecap="butt"/>
<line x1="73.5" y1="399.5" x2="284.3" y2="399.5" stroke="#222" stroke-width="1.3" stroke-linecap="butt"/>
<line x1="73.5" y1="238" x2="73.5" y2="400.1" stroke="#333" stroke-width="1.3" stroke-linecap="butt"/>
<line x1="46" y1="238.6" x2="46" y2="400.1" stroke="#555" stroke-width="1.0" stroke-linecap="butt"/>
<line x1="73.5" y1="399.4" x2="75.5" y2="399.4" stroke="#333" stroke-width="1.0" stroke-linecap="butt"/>
<line x1="46" y1="399.4" x2="47.8" y2="399.4" stroke="#555" stroke-width="1.0" stroke-linecap="butt"/>
<line x1="73.5" y1="379.38" x2="75.5" y2="379.38" stroke="#333" stroke-width="1.0" stroke-linecap="butt"/>
<line x1="46" y1="379.38" x2="47.8" y2="379.38" stroke="#555" stroke-width="1.0" stroke-linecap="butt"/>
<line x1="73.5" y1="359.35" x2="75.5" y2="359.35" stroke="#333" stroke-width="1.0" stroke-linecap="butt"/>
<line x1="46" y1="359.35" x2="47.8" y2="359.35" stroke="#555" stroke-width="1.0" stroke-linecap="butt"/>
<line x1="73.5" y1="339.32" x2="75.5" y2="339.32" stroke="#333" stroke-width="1.0" stroke-linecap="butt"/>
<line x1="46" y1="339.32" x2="47.8" y2="339.32" stroke="#555" stroke-width="1.0" stroke-linecap="butt"/>
<line x1="73.5" y1="319.3" x2="75.5" y2="319.3" stroke="#333" stroke-width="1.0" stroke-linecap="butt"/>
<line x1="46" y1="319.3" x2="47.8" y2="319.3" stroke="#555" stroke-width="1.0" stroke-linecap="butt"/>
<line x1="73.5" y1="299.27" x2="75.5" y2="299.27" stroke="#333" stroke-width="1.0" stroke-linecap="butt"/>
<line x1="46" y1="299.27" x2="47.8" y2="299.27" stroke="#555" stroke-width="1.0" stroke-linecap="butt"/>
<line x1="73.5" y1="279.25" x2="75.5" y2="279.25" stroke="#333" stroke-width="1.0" stroke-linecap="butt"/>
<line x1="46" y1="279.25" x2="47.8" y2="279.25" stroke="#555" stroke-width="1.0" stroke-linecap="butt"/>
<line x1="73.5" y1="259.23" x2="75.5" y2="259.23" stroke="#333" stroke-width="1.0" stroke-linecap="butt"/>
<line x1="46" y1="259.23" x2="47.8" y2="259.23" stroke="#555" stroke-width="1.0" stroke-linecap="butt"/>
<line x1="73.5" y1="239.2" x2="75.5" y2="239.2" stroke="#333" stroke-width="1.0" stroke-linecap="butt"/>
<line x1="46" y1="239.2" x2="47.8" y2="239.2" stroke="#555" stroke-width="1.0" stroke-linecap="butt"/>
<line x1="284.3" y1="399.4" x2="288.3" y2="399.4" stroke="#3c3cdc" stroke-width="1.2" stroke-linecap="butt"/>
<line x1="284.3" y1="379.36" x2="286.3" y2="379.36" stroke="#3c3cdc" stroke-width="1.2" stroke-linecap="butt"/>
<line x1="284.3" y1="359.32" x2="288.3" y2="359.32" stroke="#3c3cdc" stroke-width="1.2" stroke-linecap="butt"/>
<line x1="284.3" y1="339.28" x2="286.3" y2="339.28" stroke="#3c3cdc" stroke-width="1.2" stroke-linecap="butt"/>
<line x1="284.3" y1="319.24" x2="288.3" y2="319.24" stroke="#3c3cdc" stroke-width="1.2" stroke-linecap="butt"/>
<line x1="284.3" y1="299.2" x2="286.3" y2="299.2" stroke="#3c3cdc" stroke-width="1.2" stroke-linecap="butt"/>
<line x1="284.3" y1="279.16" x2="288.3" y2="279.16" stroke="#3c3cdc" stroke-width="1.2" stroke-linecap="butt"/>
<line x1="284.3" y1="259.12" x2="286.3" y2="259.12" stroke="#3c3cdc" stroke-width="1.2" stroke-linecap="butt"/>
<line x1="284.3" y1="239.08" x2="288.3" y2="239.08" stroke="#3c3cdc" stroke-width="1.2" stroke-linecap="butt"/>
<line x1="86.2" y1="399.5" x2="86.2" y2="402.3" stroke="#333" stroke-width="1.0" stroke-linecap="butt"/>
<line x1="103.8" y1="399.5" x2="103.8" y2="401.3" stroke="#333" stroke-width="1.0" stroke-linecap="butt"/>
<line x1="121.4" y1="399.5" x2="121.4" y2="402.3" stroke="#333" stroke-width="1.0" stroke-linecap="butt"/>
<line x1="139" y1="399.5" x2="139" y2="401.3" stroke="#333" stroke-width="1.0" stroke-linecap="butt"/>
<line x1="156.6" y1="399.5" x2="156.6" y2="402.3" stroke="#333" stroke-width="1.0" stroke-linecap="butt"/>
<line x1="174.2" y1="399.5" x2="174.2" y2="401.3" stroke="#333" stroke-width="1.0" stroke-linecap="butt"/>
<line x1="191.8" y1="399.5" x2="191.8" y2="402.3" stroke="#333" stroke-width="1.0" stroke-linecap="butt"/>
<line x1="209.4" y1="399.5" x2="209.4" y2="401.3" stroke="#333" stroke-width="1.0" stroke-linecap="butt"/>
<line x1="227" y1="399.5" x2="227" y2="402.3" stroke="#333" stroke-width="1.0" stroke-linecap="butt"/>
<line x1="244.6" y1="399.5" x2="244.6" y2="401.3" stroke="#333" stroke-width="1.0" stroke-linecap="butt"/>
<line x1="262.2" y1="399.5" x2="262.2" y2="402.3" stroke="#333" stroke-width="1.0" stroke-linecap="butt"/>
<text transform="translate(29.52 241.74) scale(1.070 1)" font-size="10.40" stroke="#000" stroke-width="0.15"><tspan>8.0</tspan></text>
<text transform="translate(29.52 281.79) scale(1.070 1)" font-size="10.40" stroke="#000" stroke-width="0.15"><tspan>6.0</tspan></text>
<text transform="translate(29.52 321.84) scale(1.070 1)" font-size="10.40" stroke="#000" stroke-width="0.15"><tspan>4.0</tspan></text>
<text transform="translate(29.52 361.89) scale(1.070 1)" font-size="10.40" stroke="#000" stroke-width="0.15"><tspan>2.0</tspan></text>
<text transform="translate(29.52 401.94) scale(1.070 1)" font-size="10.40" stroke="#000" stroke-width="0.15"><tspan>0.0</tspan></text>
<text transform="translate(56.92 241.74) scale(1.070 1)" font-size="10.40" stroke="#000" stroke-width="0.15"><tspan>4.0</tspan></text>
<text transform="translate(56.92 281.79) scale(1.070 1)" font-size="10.40" stroke="#000" stroke-width="0.15"><tspan>3.0</tspan></text>
<text transform="translate(56.92 321.84) scale(1.070 1)" font-size="10.40" stroke="#000" stroke-width="0.15"><tspan>2.0</tspan></text>
<text transform="translate(56.92 361.89) scale(1.070 1)" font-size="10.40" stroke="#000" stroke-width="0.15"><tspan>1.0</tspan></text>
<text transform="translate(56.92 401.94) scale(1.070 1)" font-size="10.40" stroke="#000" stroke-width="0.15"><tspan>0.0</tspan></text>
<text transform="translate(287.25 403.04) scale(1.070 1)" font-size="10.40" fill="#0000ff" stroke="#0000ff" stroke-width="0.15"><tspan>0.0</tspan></text>
<text transform="translate(287.25 362.96) scale(1.070 1)" font-size="10.40" fill="#0000ff" stroke="#0000ff" stroke-width="0.15"><tspan>0.4</tspan></text>
<text transform="translate(287.25 322.88) scale(1.070 1)" font-size="10.40" fill="#0000ff" stroke="#0000ff" stroke-width="0.15"><tspan>0.8</tspan></text>
<text transform="translate(286.87 282.80) scale(1.070 1)" font-size="10.40" fill="#0000ff" stroke="#0000ff" stroke-width="0.15"><tspan>1.2</tspan></text>
<text transform="translate(286.87 242.72) scale(1.070 1)" font-size="10.40" fill="#0000ff" stroke="#0000ff" stroke-width="0.15"><tspan>1.6</tspan></text>
<text transform="translate(85.77 235.68) scale(1.070 1)" font-size="10.40" fill="#0000ff" stroke="#0000ff" stroke-width="0.15"><tspan>0.5</tspan></text>
<text transform="translate(121.97 235.68) scale(1.070 1)" font-size="10.40" fill="#0000ff" stroke="#0000ff" stroke-width="0.15"><tspan>1.5</tspan></text>
<text transform="translate(158.51 235.68) scale(1.070 1)" font-size="10.40" fill="#0000ff" stroke="#0000ff" stroke-width="0.15"><tspan>2.5</tspan></text>
<text transform="translate(194.97 235.68) scale(1.070 1)" font-size="10.40" fill="#0000ff" stroke="#0000ff" stroke-width="0.15"><tspan>3.5</tspan></text>
<text transform="translate(231.48 235.68) scale(1.070 1)" font-size="10.40" fill="#0000ff" stroke="#0000ff" stroke-width="0.15"><tspan>4.5</tspan></text>
<text transform="translate(267.77 235.68) scale(1.070 1)" font-size="10.40" fill="#0000ff" stroke="#0000ff" stroke-width="0.15"><tspan>5.5</tspan></text>
<text transform="translate(78.53 411.14) scale(1.070 1)" font-size="10.20" stroke="#000" stroke-width="0.15"><tspan>2.0</tspan></text>
<text transform="translate(114.00 411.14) scale(1.070 1)" font-size="10.20" stroke="#000" stroke-width="0.15"><tspan>4.0</tspan></text>
<text transform="translate(149.13 411.14) scale(1.070 1)" font-size="10.20" stroke="#000" stroke-width="0.15"><tspan>6.0</tspan></text>
<text transform="translate(184.46 411.14) scale(1.070 1)" font-size="10.20" stroke="#000" stroke-width="0.15"><tspan>8.0</tspan></text>
<text transform="translate(216.57 411.14) scale(1.070 1)" font-size="10.20" stroke="#000" stroke-width="0.15"><tspan>10.0</tspan></text>
<text transform="translate(251.87 411.14) scale(1.070 1)" font-size="10.20" stroke="#000" stroke-width="0.15"><tspan>12.0</tspan></text>
<text transform="translate(143.93 221.40) scale(1.058 1)" font-size="10.36" fill="#0000ff" stroke="#0000ff" stroke-width="0.15"><tspan>Time (hours)</tspan></text>
<text transform="translate(141.87 426.70) scale(0.965 1)" font-size="11.36" stroke="#000" stroke-width="0.15"><tspan>Pressure (bar</tspan><tspan font-size="7.72" dy="3.41">a</tspan><tspan dy="-3.41">)</tspan></text>
<text transform="translate(317.60 342.50) rotate(-90) scale(0.901 1)" font-size="11.64" fill="#0000ff" stroke="#0000ff" stroke-width="0.15"><tspan>Voltage (V)</tspan></text>
<text transform="translate(28.50 387.73) rotate(-90) scale(0.868 1)" font-size="11.93" stroke="#000" stroke-width="0.15"><tspan>NH</tspan><tspan font-size="6.56" dy="4.53">3</tspan><tspan dy="-4.53"> prod. rate·10</tspan><tspan font-size="6.56" dy="-4.53">6</tspan><tspan dy="4.53"> (mol·s</tspan><tspan font-size="6.56" dy="-4.53">-1</tspan><tspan dy="4.53">·g</tspan><tspan font-size="6.56" dy="4.53">cat</tspan><tspan dy="-4.53">)</tspan></text>
<text transform="translate(57.60 394.74) rotate(-90) scale(0.875 1)" font-size="11.93" stroke="#000" stroke-width="0.15"><tspan>NH</tspan><tspan font-size="6.56" dy="4.53">3</tspan><tspan dy="-4.53"> prod. rate ·10</tspan><tspan font-size="6.56" dy="-4.53">6</tspan><tspan dy="4.53"> (mol·s</tspan><tspan font-size="6.56" dy="-4.53">-1</tspan><tspan dy="4.53">·cm</tspan><tspan font-size="6.56" dy="-4.53">-2</tspan><tspan dy="4.53">)</tspan></text>
<text transform="translate(1.63 245.50) scale(1.066 1)" font-size="21.65" font-weight="bold" stroke="#000" stroke-width="0.15"><tspan>c</tspan></text>
<text transform="translate(78.96 309.40) scale(0.901 1)" font-size="10.79" stroke="#000" stroke-width="0.15"><tspan>T</tspan><tspan font-size="7.33" dy="3.24">cell</tspan><tspan dy="-3.24"> = 550 </tspan><tspan font-size="7.33" dy="-4.10">0</tspan><tspan dy="4.10">C</tspan></text>
<text transform="translate(78.34 324.20) scale(0.933 1)" font-size="10.79" stroke="#000" stroke-width="0.15"><tspan>Flow rate = 200 sccm</tspan></text>
<text transform="translate(78.36 335.30) scale(0.914 1)" font-size="10.79" stroke="#000" stroke-width="0.15"><tspan>H</tspan><tspan font-size="7.33" dy="3.24">2</tspan><tspan dy="-3.24"> / N</tspan><tspan font-size="7.33" dy="3.24">2</tspan><tspan dy="-3.24"> = 3 : 1</tspan></text>
<text transform="translate(79.15 351.10) scale(0.916 1)" font-size="10.79" stroke="#000" stroke-width="0.15"><tspan>Active area: 0.5 cm</tspan><tspan font-size="7.33" dy="-4.10">2</tspan></text>
<text transform="translate(185.50 249.50) scale(0.880 1)" font-size="11.21" fill="#0000ff" stroke="#0000ff" stroke-width="0.15"><tspan>j = 500 mA / cm</tspan><tspan font-size="7.63" dy="-4.26">2</tspan></text>
<text transform="translate(244.82 292.50) scale(0.971 1)" font-size="9.93" fill="#0000ff" stroke="#0000ff" stroke-width="0.15"><tspan>OCV</tspan></text>
<polyline points="76.39,295.14 77.23,295.44 78.07,295.27 78.9,295.5 79.74,295.53 80.58,294.97 81.42,294.91 82.25,295.74 83.09,295.16 83.93,295.13 84.76,295.9" fill="none" stroke="#0000ff" stroke-width="3.0" stroke-linejoin="round" stroke-linecap="butt"/>
<line x1="80.82" y1="295.4" x2="80.82" y2="298.15" stroke="#0000ff" stroke-width="1.0" stroke-linecap="butt"/>
<line x1="80.86" y1="295.4" x2="80.86" y2="297.86" stroke="#0000ff" stroke-width="1.0" stroke-linecap="butt"/>
<polyline points="85.13,248.55 85.93,249.03 86.73,249.27 87.53,248.92 88.33,249.14 89.13,249.07 89.93,248.46 90.73,249.16 91.53,248.99 92.34,248.7 93.14,248.43" fill="none" stroke="#0000ff" stroke-width="3.0" stroke-linejoin="round" stroke-linecap="butt"/>
<line x1="91.58" y1="248.9" x2="91.58" y2="251.11" stroke="#0000ff" stroke-width="1.0" stroke-linecap="butt"/>
<line x1="90.76" y1="248.9" x2="90.76" y2="251.72" stroke="#0000ff" stroke-width="1.0" stroke-linecap="butt"/>
<polyline points="94.59,295.81 95.43,296.02 96.27,295.49 97.1,295.9 97.94,295.54 98.78,296.04 99.62,295.98 100.45,295.2 101.29,295.24 102.13,295.32 102.96,296.07" fill="none" stroke="#0000ff" stroke-width="3.0" stroke-linejoin="round" stroke-linecap="butt"/>
<line x1="98.82" y1="295.6" x2="98.82" y2="298.04" stroke="#0000ff" stroke-width="1.0" stroke-linecap="butt"/>
<line x1="98.03" y1="295.6" x2="98.03" y2="297.86" stroke="#0000ff" stroke-width="1.0" stroke-linecap="butt"/>
<polyline points="103.33,249.39 104.13,249.35 104.93,249.59 105.73,249.58 106.53,249.9 107.33,249.68 108.13,249.93 108.93,249.86 109.73,249.99 110.54,249.67 111.34,249.16" fill="none" stroke="#0000ff" stroke-width="3.0" stroke-linejoin="round" stroke-linecap="butt"/>
<line x1="109.75" y1="249.5" x2="109.75" y2="252.45" stroke="#0000ff" stroke-width="1.0" stroke-linecap="butt"/>
<line x1="110" y1="249.5" x2="110" y2="251.85" stroke="#0000ff" stroke-width="1.0" stroke-linecap="butt"/>
<polyline points="112.79,294.81 113.63,294.31 114.47,294.93 115.3,294.67 116.14,294.38 116.98,294.16 117.82,294.95 118.65,295.09 119.49,294.19 120.33,294.9 121.16,294.51" fill="none" stroke="#0000ff" stroke-width="3.0" stroke-linejoin="round" stroke-linecap="butt"/>
<line x1="115.35" y1="294.6" x2="115.35" y2="296.54" stroke="#0000ff" stroke-width="1.0" stroke-linecap="butt"/>
<line x1="118.97" y1="294.6" x2="118.97" y2="297.41" stroke="#0000ff" stroke-width="1.0" stroke-linecap="butt"/>
<polyline points="121.53,249.34 122.33,249.91 123.13,249.34 123.93,250.02 124.73,249.63 125.53,250.18 126.33,250.28 127.13,249.81 127.93,250.3 128.74,249.61 129.54,249.38" fill="none" stroke="#0000ff" stroke-width="3.0" stroke-linejoin="round" stroke-linecap="butt"/>
<line x1="126.49" y1="249.8" x2="126.49" y2="251.35" stroke="#0000ff" stroke-width="1.0" stroke-linecap="butt"/>
<line x1="124.24" y1="249.8" x2="124.24" y2="251.91" stroke="#0000ff" stroke-width="1.0" stroke-linecap="butt"/>
<polyline points="130.99,294.91 131.83,294.46 132.67,294.34 133.5,295.17 134.34,294.61 135.18,295.26 136.02,295.2 136.85,294.68 137.69,294.76 138.53,294.82 139.36,294.94" fill="none" stroke="#0000ff" stroke-width="3.0" stroke-linejoin="round" stroke-linecap="butt"/>
<line x1="136.16" y1="294.8" x2="136.16" y2="297.14" stroke="#0000ff" stroke-width="1.0" stroke-linecap="butt"/>
<line x1="136.3" y1="294.8" x2="136.3" y2="297.71" stroke="#0000ff" stroke-width="1.0" stroke-linecap="butt"/>
<polyline points="139.73,250.41 140.53,250.33 141.33,250.62 142.13,250.14 142.93,250.2 143.73,250.88 144.53,250.42 145.33,250.45 146.13,249.91 146.94,250.32 147.74,250.48" fill="none" stroke="#0000ff" stroke-width="3.0" stroke-linejoin="round" stroke-linecap="butt"/>
<line x1="141.44" y1="250.4" x2="141.44" y2="252.82" stroke="#0000ff" stroke-width="1.0" stroke-linecap="butt"/>
<line x1="144.87" y1="250.4" x2="144.87" y2="251.99" stroke="#0000ff" stroke-width="1.0" stroke-linecap="butt"/>
<polyline points="149.19,294.63 150.03,294.47 150.87,294.68 151.7,294.35 152.54,294.71 153.38,294.74 154.22,294.02 155.05,294.06 155.89,294.68 156.73,294.96 157.56,294.25" fill="none" stroke="#0000ff" stroke-width="3.0" stroke-linejoin="round" stroke-linecap="butt"/>
<line x1="153.54" y1="294.5" x2="153.54" y2="296.89" stroke="#0000ff" stroke-width="1.0" stroke-linecap="butt"/>
<line x1="152.74" y1="294.5" x2="152.74" y2="296.55" stroke="#0000ff" stroke-width="1.0" stroke-linecap="butt"/>
<polyline points="157.93,251.51 158.73,251.57 159.53,251.8 160.33,251.5 161.13,251.58 161.93,251.97 162.73,251.23 163.53,251.77 164.33,251.94 165.14,251.51 165.94,251.42" fill="none" stroke="#0000ff" stroke-width="3.0" stroke-linejoin="round" stroke-linecap="butt"/>
<line x1="164.04" y1="251.7" x2="164.04" y2="253.56" stroke="#0000ff" stroke-width="1.0" stroke-linecap="butt"/>
<line x1="160.58" y1="251.7" x2="160.58" y2="253.85" stroke="#0000ff" stroke-width="1.0" stroke-linecap="butt"/>
<polyline points="167.39,295 168.23,294.4 169.07,294.62 169.9,294.63 170.74,295.13 171.58,294.74 172.42,295.16 173.25,294.47 174.09,294.64 174.93,294.95 175.76,295.18" fill="none" stroke="#0000ff" stroke-width="3.0" stroke-linejoin="round" stroke-linecap="butt"/>
<line x1="171.71" y1="294.8" x2="171.71" y2="296.64" stroke="#0000ff" stroke-width="1.0" stroke-linecap="butt"/>
<line x1="169.78" y1="294.8" x2="169.78" y2="297.09" stroke="#0000ff" stroke-width="1.0" stroke-linecap="butt"/>
<polyline points="176.13,252.99 176.93,253.61 177.73,253.64 178.53,252.98 179.33,253.08 180.13,253.61 180.93,253.44 181.73,253.61 182.53,253.15 183.34,252.93 184.14,253.09" fill="none" stroke="#0000ff" stroke-width="3.0" stroke-linejoin="round" stroke-linecap="butt"/>
<line x1="182.18" y1="253.3" x2="182.18" y2="255.21" stroke="#0000ff" stroke-width="1.0" stroke-linecap="butt"/>
<line x1="179.67" y1="253.3" x2="179.67" y2="255.43" stroke="#0000ff" stroke-width="1.0" stroke-linecap="butt"/>
<polyline points="185.59,294.12 186.43,294.11 187.27,294.62 188.1,293.86 188.94,293.7 189.78,294.64 190.62,294.58 191.45,294.69 192.29,294.13 193.13,294.65 193.96,294.63" fill="none" stroke="#0000ff" stroke-width="3.0" stroke-linejoin="round" stroke-linecap="butt"/>
<line x1="188.57" y1="294.2" x2="188.57" y2="296.82" stroke="#0000ff" stroke-width="1.0" stroke-linecap="butt"/>
<line x1="192.17" y1="294.2" x2="192.17" y2="296.69" stroke="#0000ff" stroke-width="1.0" stroke-linecap="butt"/>
<polyline points="194.33,255.02 195.13,254.79 195.93,254.84 196.73,254.73 197.53,254.57 198.33,255.09 199.13,254.79 199.93,255.31 200.73,254.55 201.54,255.4 202.34,255.19" fill="none" stroke="#0000ff" stroke-width="3.0" stroke-linejoin="round" stroke-linecap="butt"/>
<line x1="201.11" y1="255" x2="201.11" y2="257.84" stroke="#0000ff" stroke-width="1.0" stroke-linecap="butt"/>
<line x1="200.97" y1="255" x2="200.97" y2="257.37" stroke="#0000ff" stroke-width="1.0" stroke-linecap="butt"/>
<polyline points="203.79,295.21 204.63,295.95 205.47,295.37 206.3,295.5 207.14,295.86 207.98,295.72 208.82,295.61 209.65,296.14 210.49,295.81 211.33,295.54 212.16,295.45" fill="none" stroke="#0000ff" stroke-width="3.0" stroke-linejoin="round" stroke-linecap="butt"/>
<line x1="210.52" y1="295.7" x2="210.52" y2="297.92" stroke="#0000ff" stroke-width="1.0" stroke-linecap="butt"/>
<line x1="210.05" y1="295.7" x2="210.05" y2="297.73" stroke="#0000ff" stroke-width="1.0" stroke-linecap="butt"/>
<polyline points="212.53,256.2 213.33,256.53 214.13,256.82 214.93,256.17 215.73,256.79 216.53,256.92 217.33,256.81 218.13,256.82 218.93,256.01 219.74,256.63 220.54,256.86" fill="none" stroke="#0000ff" stroke-width="3.0" stroke-linejoin="round" stroke-linecap="butt"/>
<line x1="214.41" y1="256.5" x2="214.41" y2="258.41" stroke="#0000ff" stroke-width="1.0" stroke-linecap="butt"/>
<line x1="215.64" y1="256.5" x2="215.64" y2="258.79" stroke="#0000ff" stroke-width="1.0" stroke-linecap="butt"/>
<polyline points="221.99,297.72 222.83,297.77 223.67,298.08 224.5,297.3 225.34,297.35 226.18,297.43 227.02,297.42 227.85,297.37 228.69,298.27 229.53,298.15 230.36,297.39" fill="none" stroke="#0000ff" stroke-width="3.0" stroke-linejoin="round" stroke-linecap="butt"/>
<line x1="226.61" y1="297.8" x2="226.61" y2="299.77" stroke="#0000ff" stroke-width="1.0" stroke-linecap="butt"/>
<line x1="225.51" y1="297.8" x2="225.51" y2="299.83" stroke="#0000ff" stroke-width="1.0" stroke-linecap="butt"/>
<polyline points="230.73,258.55 231.53,258.49 232.33,258.26 233.13,258.09 233.93,258.23 234.73,258.02 235.53,258.46 236.33,258.62 237.13,258.28 237.94,257.98 238.74,258.08" fill="none" stroke="#0000ff" stroke-width="3.0" stroke-linejoin="round" stroke-linecap="butt"/>
<line x1="234.42" y1="258.4" x2="234.42" y2="260.81" stroke="#0000ff" stroke-width="1.0" stroke-linecap="butt"/>
<line x1="236.72" y1="258.4" x2="236.72" y2="260.47" stroke="#0000ff" stroke-width="1.0" stroke-linecap="butt"/>
<polyline points="240.19,299.8 241.03,299.62 241.87,299.43 242.7,299.37 243.54,299.5 244.38,299.7 245.22,299.42 246.05,299.69 246.89,299.46 247.73,299.25 248.56,299.54" fill="none" stroke="#0000ff" stroke-width="3.0" stroke-linejoin="round" stroke-linecap="butt"/>
<line x1="245.94" y1="299.5" x2="245.94" y2="301.11" stroke="#0000ff" stroke-width="1.0" stroke-linecap="butt"/>
<line x1="244.36" y1="299.5" x2="244.36" y2="301.64" stroke="#0000ff" stroke-width="1.0" stroke-linecap="butt"/>
<polyline points="248.93,260.68 249.73,260.74 250.53,260.17 251.33,260.7 252.13,260.59 252.93,260.06 253.73,260.26 254.53,259.92 255.33,260.61 256.14,260.46 256.94,260.69" fill="none" stroke="#0000ff" stroke-width="3.0" stroke-linejoin="round" stroke-linecap="butt"/>
<line x1="254.97" y1="260.3" x2="254.97" y2="262.8" stroke="#0000ff" stroke-width="1.0" stroke-linecap="butt"/>
<line x1="254.64" y1="260.3" x2="254.64" y2="262.65" stroke="#0000ff" stroke-width="1.0" stroke-linecap="butt"/>
<polyline points="258.39,301.2 259.23,301.69 260.07,301.1 260.9,301.24 261.74,301.87 262.58,301.14 263.42,301.19 264.25,301.2 265.09,301.98 265.93,301.28 266.76,301.12" fill="none" stroke="#0000ff" stroke-width="3.0" stroke-linejoin="round" stroke-linecap="butt"/>
<line x1="265" y1="301.6" x2="265" y2="303.28" stroke="#0000ff" stroke-width="1.0" stroke-linecap="butt"/>
<line x1="265.01" y1="301.6" x2="265.01" y2="304.11" stroke="#0000ff" stroke-width="1.0" stroke-linecap="butt"/>
<polyline points="267.13,262.54 267.93,262.65 268.73,262.28 269.53,262.5 270.33,261.74 271.13,262.47 271.93,262.21 272.73,262.42 273.53,261.81 274.34,262.45 275.14,262.63" fill="none" stroke="#0000ff" stroke-width="3.0" stroke-linejoin="round" stroke-linecap="butt"/>
<line x1="269.07" y1="262.2" x2="269.07" y2="264.19" stroke="#0000ff" stroke-width="1.0" stroke-linecap="butt"/>
<line x1="271.89" y1="262.2" x2="271.89" y2="264.94" stroke="#0000ff" stroke-width="1.0" stroke-linecap="butt"/>
<line x1="374.8" y1="395.6" x2="378.8" y2="395.6" stroke="#0000ff" stroke-width="1.2" stroke-linecap="butt"/>
<line x1="376.8" y1="379.05" x2="378.8" y2="379.05" stroke="#0000ff" stroke-width="1.2" stroke-linecap="butt"/>
<line x1="374.8" y1="362.5" x2="378.8" y2="362.5" stroke="#0000ff" stroke-width="1.2" stroke-linecap="butt"/>
<line x1="376.8" y1="345.95" x2="378.8" y2="345.95" stroke="#0000ff" stroke-width="1.2" stroke-linecap="butt"/>
<line x1="374.8" y1="329.4" x2="378.8" y2="329.4" stroke="#0000ff" stroke-width="1.2" stroke-linecap="butt"/>
<line x1="376.8" y1="312.85" x2="378.8" y2="312.85" stroke="#0000ff" stroke-width="1.2" stroke-linecap="butt"/>
<line x1="374.8" y1="296.3" x2="378.8" y2="296.3" stroke="#0000ff" stroke-width="1.2" stroke-linecap="butt"/>
<line x1="376.8" y1="279.75" x2="378.8" y2="279.75" stroke="#0000ff" stroke-width="1.2" stroke-linecap="butt"/>
<line x1="374.8" y1="263.2" x2="378.8" y2="263.2" stroke="#0000ff" stroke-width="1.2" stroke-linecap="butt"/>
<line x1="376.8" y1="246.65" x2="378.8" y2="246.65" stroke="#0000ff" stroke-width="1.2" stroke-linecap="butt"/>
<line x1="374.8" y1="230.1" x2="378.8" y2="230.1" stroke="#0000ff" stroke-width="1.2" stroke-linecap="butt"/>
<line x1="384.2" y1="395.7" x2="384.2" y2="399.3" stroke="#333" stroke-width="1.1" stroke-linecap="butt"/>
<line x1="384.2" y1="230.2" x2="384.2" y2="234.2" stroke="#333" stroke-width="1.1" stroke-linecap="butt"/>
<line x1="410.18" y1="395.7" x2="410.18" y2="397.7" stroke="#333" stroke-width="1.1" stroke-linecap="butt"/>
<line x1="410.18" y1="230.2" x2="410.18" y2="232.4" stroke="#333" stroke-width="1.1" stroke-linecap="butt"/>
<line x1="436.15" y1="395.7" x2="436.15" y2="399.3" stroke="#333" stroke-width="1.1" stroke-linecap="butt"/>
<line x1="436.15" y1="230.2" x2="436.15" y2="234.2" stroke="#333" stroke-width="1.1" stroke-linecap="butt"/>
<line x1="462.12" y1="395.7" x2="462.12" y2="397.7" stroke="#333" stroke-width="1.1" stroke-linecap="butt"/>
<line x1="462.12" y1="230.2" x2="462.12" y2="232.4" stroke="#333" stroke-width="1.1" stroke-linecap="butt"/>
<line x1="488.1" y1="395.7" x2="488.1" y2="399.3" stroke="#333" stroke-width="1.1" stroke-linecap="butt"/>
<line x1="488.1" y1="230.2" x2="488.1" y2="234.2" stroke="#333" stroke-width="1.1" stroke-linecap="butt"/>
<line x1="514.08" y1="395.7" x2="514.08" y2="397.7" stroke="#333" stroke-width="1.1" stroke-linecap="butt"/>
<line x1="514.08" y1="230.2" x2="514.08" y2="232.4" stroke="#333" stroke-width="1.1" stroke-linecap="butt"/>
<line x1="540.05" y1="395.7" x2="540.05" y2="399.3" stroke="#333" stroke-width="1.1" stroke-linecap="butt"/>
<line x1="540.05" y1="230.2" x2="540.05" y2="234.2" stroke="#333" stroke-width="1.1" stroke-linecap="butt"/>
<line x1="566.02" y1="395.7" x2="566.02" y2="397.7" stroke="#333" stroke-width="1.1" stroke-linecap="butt"/>
<line x1="566.02" y1="230.2" x2="566.02" y2="232.4" stroke="#333" stroke-width="1.1" stroke-linecap="butt"/>
<line x1="592" y1="395.7" x2="592" y2="399.3" stroke="#333" stroke-width="1.1" stroke-linecap="butt"/>
<line x1="592" y1="230.2" x2="592" y2="234.2" stroke="#333" stroke-width="1.1" stroke-linecap="butt"/>
<line x1="603.2" y1="395.59" x2="607.7" y2="395.59" stroke="#ff2020" stroke-width="1.2" stroke-linecap="butt"/>
<line x1="603.2" y1="378.99" x2="605.4" y2="378.99" stroke="#ff2020" stroke-width="1.0" stroke-linecap="butt"/>
<line x1="603.2" y1="369.29" x2="605.4" y2="369.29" stroke="#ff2020" stroke-width="1.0" stroke-linecap="butt"/>
<line x1="603.2" y1="362.4" x2="605.4" y2="362.4" stroke="#ff2020" stroke-width="1.0" stroke-linecap="butt"/>
<line x1="603.2" y1="357.06" x2="605.4" y2="357.06" stroke="#ff2020" stroke-width="1.0" stroke-linecap="butt"/>
<line x1="603.2" y1="352.69" x2="605.4" y2="352.69" stroke="#ff2020" stroke-width="1.0" stroke-linecap="butt"/>
<line x1="603.2" y1="349" x2="605.4" y2="349" stroke="#ff2020" stroke-width="1.0" stroke-linecap="butt"/>
<line x1="603.2" y1="345.8" x2="605.4" y2="345.8" stroke="#ff2020" stroke-width="1.0" stroke-linecap="butt"/>
<line x1="603.2" y1="342.98" x2="605.4" y2="342.98" stroke="#ff2020" stroke-width="1.0" stroke-linecap="butt"/>
<line x1="603.2" y1="340.46" x2="607.7" y2="340.46" stroke="#ff2020" stroke-width="1.2" stroke-linecap="butt"/>
<line x1="603.2" y1="323.86" x2="605.4" y2="323.86" stroke="#ff2020" stroke-width="1.0" stroke-linecap="butt"/>
<line x1="603.2" y1="314.16" x2="605.4" y2="314.16" stroke="#ff2020" stroke-width="1.0" stroke-linecap="butt"/>
<line x1="603.2" y1="307.27" x2="605.4" y2="307.27" stroke="#ff2020" stroke-width="1.0" stroke-linecap="butt"/>
<line x1="603.2" y1="301.93" x2="605.4" y2="301.93" stroke="#ff2020" stroke-width="1.0" stroke-linecap="butt"/>
<line x1="603.2" y1="297.56" x2="605.4" y2="297.56" stroke="#ff2020" stroke-width="1.0" stroke-linecap="butt"/>
<line x1="603.2" y1="293.87" x2="605.4" y2="293.87" stroke="#ff2020" stroke-width="1.0" stroke-linecap="butt"/>
<line x1="603.2" y1="290.67" x2="605.4" y2="290.67" stroke="#ff2020" stroke-width="1.0" stroke-linecap="butt"/>
<line x1="603.2" y1="287.85" x2="605.4" y2="287.85" stroke="#ff2020" stroke-width="1.0" stroke-linecap="butt"/>
<line x1="603.2" y1="285.33" x2="607.7" y2="285.33" stroke="#ff2020" stroke-width="1.2" stroke-linecap="butt"/>
<line x1="603.2" y1="268.73" x2="605.4" y2="268.73" stroke="#ff2020" stroke-width="1.0" stroke-linecap="butt"/>
<line x1="603.2" y1="259.03" x2="605.4" y2="259.03" stroke="#ff2020" stroke-width="1.0" stroke-linecap="butt"/>
<line x1="603.2" y1="252.14" x2="605.4" y2="252.14" stroke="#ff2020" stroke-width="1.0" stroke-linecap="butt"/>
<line x1="603.2" y1="246.8" x2="605.4" y2="246.8" stroke="#ff2020" stroke-width="1.0" stroke-linecap="butt"/>
<line x1="603.2" y1="242.43" x2="605.4" y2="242.43" stroke="#ff2020" stroke-width="1.0" stroke-linecap="butt"/>
<line x1="603.2" y1="238.74" x2="605.4" y2="238.74" stroke="#ff2020" stroke-width="1.0" stroke-linecap="butt"/>
<line x1="603.2" y1="235.54" x2="605.4" y2="235.54" stroke="#ff2020" stroke-width="1.0" stroke-linecap="butt"/>
<line x1="603.2" y1="232.72" x2="605.4" y2="232.72" stroke="#ff2020" stroke-width="1.0" stroke-linecap="butt"/>
<line x1="603.2" y1="230.2" x2="607.7" y2="230.2" stroke="#ff2020" stroke-width="1.2" stroke-linecap="butt"/>
<line x1="378.8" y1="395.7" x2="603.2" y2="395.7" stroke="#333" stroke-width="1.4" stroke-linecap="butt"/>
<line x1="378.8" y1="230.2" x2="603.2" y2="230.2" stroke="#000" stroke-width="1.3" stroke-linecap="butt"/>
<line x1="378.8" y1="229.6" x2="378.8" y2="396.3" stroke="#0000ff" stroke-width="1.5" stroke-linecap="butt"/>
<line x1="603.2" y1="229.6" x2="603.2" y2="396.3" stroke="#ff2020" stroke-width="1.5" stroke-linecap="butt"/>
<text transform="translate(354.60 399.52) scale(1.120 1)" font-size="11.20" fill="#0000ff" stroke="#0000ff" stroke-width="0.15"><tspan>0.0</tspan></text>
<text transform="translate(354.54 366.42) scale(1.120 1)" font-size="11.20" fill="#0000ff" stroke="#0000ff" stroke-width="0.15"><tspan>0.4</tspan></text>
<text transform="translate(354.67 333.32) scale(1.120 1)" font-size="11.20" fill="#0000ff" stroke="#0000ff" stroke-width="0.15"><tspan>0.8</tspan></text>
<text transform="translate(354.79 300.22) scale(1.120 1)" font-size="11.20" fill="#0000ff" stroke="#0000ff" stroke-width="0.15"><tspan>1.2</tspan></text>
<text transform="translate(354.67 267.12) scale(1.120 1)" font-size="11.20" fill="#0000ff" stroke="#0000ff" stroke-width="0.15"><tspan>1.6</tspan></text>
<text transform="translate(354.60 234.02) scale(1.120 1)" font-size="11.20" fill="#0000ff" stroke="#0000ff" stroke-width="0.15"><tspan>2.0</tspan></text>
<text transform="translate(380.94 412.42) scale(1.100 1)" font-size="10.60" stroke="#000" stroke-width="0.15"><tspan>0</tspan></text>
<text transform="translate(429.45 412.42) scale(1.100 1)" font-size="10.60" stroke="#000" stroke-width="0.15"><tspan>10</tspan></text>
<text transform="translate(481.54 412.42) scale(1.100 1)" font-size="10.60" stroke="#000" stroke-width="0.15"><tspan>20</tspan></text>
<text transform="translate(533.55 412.42) scale(1.100 1)" font-size="10.60" stroke="#000" stroke-width="0.15"><tspan>30</tspan></text>
<text transform="translate(585.62 412.42) scale(1.100 1)" font-size="10.60" stroke="#000" stroke-width="0.15"><tspan>40</tspan></text>
<text transform="translate(489.30 426.80) scale(0.944 1)" font-size="13.07" stroke="#000" stroke-width="0.15"><tspan>Time (h)</tspan></text>
<text transform="translate(350.60 342.81) rotate(-90) scale(0.944 1)" font-size="13.07" fill="#0000ff" stroke="#0000ff" stroke-width="0.15"><tspan>Voltage (V)</tspan></text>
<text transform="translate(324.19 241.40) scale(1.031 1)" font-size="23.24" font-weight="bold" stroke="#000" stroke-width="0.15"><tspan>d</tspan></text>
<text transform="translate(609.47 234.22) scale(1.080 1)" font-size="11.50" fill="#ff2020" stroke="#ff2020" stroke-width="0.15"><tspan>10</tspan><tspan font-size="7.82" dy="-4.37">-7</tspan></text>
<text transform="translate(609.47 289.35) scale(1.080 1)" font-size="11.50" fill="#ff2020" stroke="#ff2020" stroke-width="0.15"><tspan>10</tspan><tspan font-size="7.82" dy="-4.37">-8</tspan></text>
<text transform="translate(609.47 344.48) scale(1.080 1)" font-size="11.50" fill="#ff2020" stroke="#ff2020" stroke-width="0.15"><tspan>10</tspan><tspan font-size="7.82" dy="-4.37">-9</tspan></text>
<text transform="translate(609.47 399.62) scale(1.080 1)" font-size="11.50" fill="#ff2020" stroke="#ff2020" stroke-width="0.15"><tspan>10</tspan><tspan font-size="7.82" dy="-4.37">-10</tspan></text>
<text transform="translate(641.50 377.32) rotate(-90) scale(0.910 1)" font-size="16.07" fill="#ff2020" stroke="#ff2020" stroke-width="0.15"><tspan>NH</tspan><tspan font-size="10.93" dy="4.82">3</tspan><tspan dy="-4.82"> production rate</tspan></text>
<text transform="translate(661.50 353.71) rotate(-90) scale(0.998 1)" font-size="14.36" fill="#ff2020" stroke="#ff2020" stroke-width="0.15"><tspan>(mol cm</tspan><tspan font-size="9.76" dy="-5.46">-2</tspan><tspan dy="5.46"> s</tspan><tspan font-size="9.76" dy="-5.46">-1</tspan><tspan dy="5.46">)</tspan></text>
<polyline points="381.4,265.2 400,264.4 420,263.6 432.7,263" fill="none" stroke="#0000ff" stroke-width="4.6" stroke-linejoin="round" stroke-linecap="butt"/>
<polyline points="430,327.4 433,329.4 440,331.6 449,332.5 458,331.8 466,330 475,328.7 490.5,328.2" fill="none" stroke="#0000ff" stroke-width="4.6" stroke-linejoin="round" stroke-linecap="butt"/>
<polyline points="488.3,265.4 488.6,261.2 492,260.3 500,259.8 520,259.2 539.5,258.6" fill="none" stroke="#0000ff" stroke-width="4.6" stroke-linejoin="round" stroke-linecap="butt"/>
<polyline points="536.8,330.9 560,331.8 580,332.5 599.5,333.2" fill="none" stroke="#0000ff" stroke-width="4.6" stroke-linejoin="round" stroke-linecap="butt"/>
<line x1="384.2" y1="282.6" x2="535.89" y2="282.6" stroke="#ee2222" stroke-width="1.0" stroke-linecap="butt" stroke-dasharray="2.2,1.8"/>
<rect x="381.8" y="282.4" width="5.6" height="5.6" fill="#e84040" stroke="none" stroke-width="0"/>
<rect x="403.8" y="280.4" width="5.6" height="5.6" fill="#e84040" stroke="none" stroke-width="0"/>
<rect x="426.1" y="280.8" width="5.6" height="5.6" fill="#e84040" stroke="none" stroke-width="0"/>
<rect x="487.1" y="268.3" width="5.6" height="5.6" fill="#e84040" stroke="none" stroke-width="0"/>
<rect x="509.1" y="283" width="5.6" height="5.6" fill="#e84040" stroke="none" stroke-width="0"/>
<rect x="534.1" y="284.8" width="5.6" height="5.6" fill="#e84040" stroke="none" stroke-width="0"/>
<text transform="translate(486.36 246.80) scale(0.907 1)" font-size="13.50" stroke="#000" stroke-width="0.15"><tspan>j = 2000 mA.cm</tspan><tspan font-size="9.18" dy="-5.13">-2</tspan></text>
<text transform="translate(410.76 346.10) scale(1.020 1)" font-size="12.07" stroke="#000" stroke-width="0.15"><tspan>j = 400 mA.cm</tspan><tspan font-size="8.21" dy="-4.59">-2</tspan></text>
<polyline points="490.3,258.6 480.8,246.8 466,246.8" fill="none" stroke="#000" stroke-width="1.1" stroke-linejoin="round" stroke-linecap="butt"/>
<polygon points="460,246.8 467,244.4 467,249.2" fill="#000" stroke="none" stroke-width="0"/>
<polyline points="429.5,285.5 440,298.3 450,298.3" fill="none" stroke="#000" stroke-width="1.1" stroke-linejoin="round" stroke-linecap="butt"/>
<polygon points="456.5,298.3 449.5,300.7 449.5,295.9" fill="#000" stroke="none" stroke-width="0"/>
<line x1="51.7" y1="582.4" x2="55.9" y2="582.4" stroke="#a0506a" stroke-width="1.2" stroke-linecap="butt"/>
<line x1="53.7" y1="570.8" x2="55.9" y2="570.8" stroke="#a0506a" stroke-width="1.2" stroke-linecap="butt"/>
<line x1="51.7" y1="559.2" x2="55.9" y2="559.2" stroke="#a0506a" stroke-width="1.2" stroke-linecap="butt"/>
<line x1="53.7" y1="547.6" x2="55.9" y2="547.6" stroke="#a0506a" stroke-width="1.2" stroke-linecap="butt"/>
<line x1="51.7" y1="536" x2="55.9" y2="536" stroke="#a0506a" stroke-width="1.2" stroke-linecap="butt"/>
<line x1="53.7" y1="524.4" x2="55.9" y2="524.4" stroke="#a0506a" stroke-width="1.2" stroke-linecap="butt"/>
<line x1="51.7" y1="512.8" x2="55.9" y2="512.8" stroke="#a0506a" stroke-width="1.2" stroke-linecap="butt"/>
<line x1="53.7" y1="501.2" x2="55.9" y2="501.2" stroke="#a0506a" stroke-width="1.2" stroke-linecap="butt"/>
<line x1="51.7" y1="489.6" x2="55.9" y2="489.6" stroke="#a0506a" stroke-width="1.2" stroke-linecap="butt"/>
<line x1="53.7" y1="478" x2="55.9" y2="478" stroke="#a0506a" stroke-width="1.2" stroke-linecap="butt"/>
<line x1="51.7" y1="466.4" x2="55.9" y2="466.4" stroke="#a0506a" stroke-width="1.2" stroke-linecap="butt"/>
<line x1="53.7" y1="454.8" x2="55.9" y2="454.8" stroke="#a0506a" stroke-width="1.2" stroke-linecap="butt"/>
<line x1="51.7" y1="443.2" x2="55.9" y2="443.2" stroke="#a0506a" stroke-width="1.2" stroke-linecap="butt"/>
<line x1="55.9" y1="582.3" x2="55.9" y2="587.7" stroke="#000" stroke-width="1.2" stroke-linecap="butt"/>
<line x1="55.9" y1="443.2" x2="55.9" y2="447.6" stroke="#000" stroke-width="1.2" stroke-linecap="butt"/>
<line x1="111.05" y1="582.3" x2="111.05" y2="585.1" stroke="#000" stroke-width="1.2" stroke-linecap="butt"/>
<line x1="111.05" y1="443.2" x2="111.05" y2="445.8" stroke="#000" stroke-width="1.2" stroke-linecap="butt"/>
<line x1="166.2" y1="582.3" x2="166.2" y2="587.7" stroke="#000" stroke-width="1.2" stroke-linecap="butt"/>
<line x1="166.2" y1="443.2" x2="166.2" y2="447.6" stroke="#000" stroke-width="1.2" stroke-linecap="butt"/>
<line x1="221.35" y1="582.3" x2="221.35" y2="585.1" stroke="#000" stroke-width="1.2" stroke-linecap="butt"/>
<line x1="221.35" y1="443.2" x2="221.35" y2="445.8" stroke="#000" stroke-width="1.2" stroke-linecap="butt"/>
<line x1="276.5" y1="582.3" x2="276.5" y2="587.7" stroke="#000" stroke-width="1.2" stroke-linecap="butt"/>
<line x1="276.5" y1="443.2" x2="276.5" y2="447.6" stroke="#000" stroke-width="1.2" stroke-linecap="butt"/>
<line x1="331.65" y1="582.3" x2="331.65" y2="585.1" stroke="#000" stroke-width="1.2" stroke-linecap="butt"/>
<line x1="331.65" y1="443.2" x2="331.65" y2="445.8" stroke="#000" stroke-width="1.2" stroke-linecap="butt"/>
<line x1="386.8" y1="582.3" x2="386.8" y2="587.7" stroke="#000" stroke-width="1.2" stroke-linecap="butt"/>
<line x1="386.8" y1="443.2" x2="386.8" y2="447.6" stroke="#000" stroke-width="1.2" stroke-linecap="butt"/>
<line x1="441.95" y1="582.3" x2="441.95" y2="585.1" stroke="#000" stroke-width="1.2" stroke-linecap="butt"/>
<line x1="441.95" y1="443.2" x2="441.95" y2="445.8" stroke="#000" stroke-width="1.2" stroke-linecap="butt"/>
<line x1="497.1" y1="582.3" x2="497.1" y2="587.7" stroke="#000" stroke-width="1.2" stroke-linecap="butt"/>
<line x1="497.1" y1="443.2" x2="497.1" y2="447.6" stroke="#000" stroke-width="1.2" stroke-linecap="butt"/>
<line x1="552.25" y1="582.3" x2="552.25" y2="585.1" stroke="#000" stroke-width="1.2" stroke-linecap="butt"/>
<line x1="552.25" y1="443.2" x2="552.25" y2="445.8" stroke="#000" stroke-width="1.2" stroke-linecap="butt"/>
<line x1="607.4" y1="582.3" x2="607.4" y2="587.7" stroke="#000" stroke-width="1.2" stroke-linecap="butt"/>
<line x1="607.4" y1="443.2" x2="607.4" y2="447.6" stroke="#000" stroke-width="1.2" stroke-linecap="butt"/>
<line x1="607.4" y1="572.02" x2="609.6" y2="572.02" stroke="#0000ff" stroke-width="1.0" stroke-linecap="butt"/>
<line x1="607.4" y1="562.66" x2="609.6" y2="562.66" stroke="#0000ff" stroke-width="1.0" stroke-linecap="butt"/>
<line x1="607.4" y1="554.54" x2="609.6" y2="554.54" stroke="#0000ff" stroke-width="1.0" stroke-linecap="butt"/>
<line x1="607.4" y1="547.39" x2="609.6" y2="547.39" stroke="#0000ff" stroke-width="1.0" stroke-linecap="butt"/>
<line x1="607.4" y1="540.99" x2="612" y2="540.99" stroke="#0000ff" stroke-width="1.2" stroke-linecap="butt"/>
<line x1="607.4" y1="535.2" x2="609.6" y2="535.2" stroke="#0000ff" stroke-width="1.0" stroke-linecap="butt"/>
<line x1="607.4" y1="529.91" x2="609.6" y2="529.91" stroke="#0000ff" stroke-width="1.0" stroke-linecap="butt"/>
<line x1="607.4" y1="525.05" x2="609.6" y2="525.05" stroke="#0000ff" stroke-width="1.0" stroke-linecap="butt"/>
<line x1="607.4" y1="520.54" x2="609.6" y2="520.54" stroke="#0000ff" stroke-width="1.0" stroke-linecap="butt"/>
<line x1="607.4" y1="516.35" x2="609.6" y2="516.35" stroke="#0000ff" stroke-width="1.0" stroke-linecap="butt"/>
<line x1="607.4" y1="512.43" x2="609.6" y2="512.43" stroke="#0000ff" stroke-width="1.0" stroke-linecap="butt"/>
<line x1="607.4" y1="508.75" x2="609.6" y2="508.75" stroke="#0000ff" stroke-width="1.0" stroke-linecap="butt"/>
<line x1="607.4" y1="505.27" x2="609.6" y2="505.27" stroke="#0000ff" stroke-width="1.0" stroke-linecap="butt"/>
<line x1="607.4" y1="501.99" x2="609.6" y2="501.99" stroke="#0000ff" stroke-width="1.0" stroke-linecap="butt"/>
<line x1="607.4" y1="498.87" x2="612" y2="498.87" stroke="#0000ff" stroke-width="1.2" stroke-linecap="butt"/>
<line x1="607.4" y1="495.91" x2="609.6" y2="495.91" stroke="#0000ff" stroke-width="1.0" stroke-linecap="butt"/>
<line x1="607.4" y1="493.08" x2="609.6" y2="493.08" stroke="#0000ff" stroke-width="1.0" stroke-linecap="butt"/>
<line x1="607.4" y1="490.38" x2="609.6" y2="490.38" stroke="#0000ff" stroke-width="1.0" stroke-linecap="butt"/>
<line x1="607.4" y1="487.79" x2="609.6" y2="487.79" stroke="#0000ff" stroke-width="1.0" stroke-linecap="butt"/>
<line x1="607.4" y1="485.31" x2="609.6" y2="485.31" stroke="#0000ff" stroke-width="1.0" stroke-linecap="butt"/>
<line x1="607.4" y1="482.93" x2="609.6" y2="482.93" stroke="#0000ff" stroke-width="1.0" stroke-linecap="butt"/>
<line x1="607.4" y1="480.64" x2="609.6" y2="480.64" stroke="#0000ff" stroke-width="1.0" stroke-linecap="butt"/>
<line x1="607.4" y1="478.43" x2="609.6" y2="478.43" stroke="#0000ff" stroke-width="1.0" stroke-linecap="butt"/>
<line x1="607.4" y1="476.3" x2="609.6" y2="476.3" stroke="#0000ff" stroke-width="1.0" stroke-linecap="butt"/>
<line x1="607.4" y1="474.24" x2="612" y2="474.24" stroke="#0000ff" stroke-width="1.2" stroke-linecap="butt"/>
<line x1="607.4" y1="472.24" x2="609.6" y2="472.24" stroke="#0000ff" stroke-width="1.0" stroke-linecap="butt"/>
<line x1="607.4" y1="470.32" x2="609.6" y2="470.32" stroke="#0000ff" stroke-width="1.0" stroke-linecap="butt"/>
<line x1="607.4" y1="468.45" x2="609.6" y2="468.45" stroke="#0000ff" stroke-width="1.0" stroke-linecap="butt"/>
<line x1="607.4" y1="466.63" x2="609.6" y2="466.63" stroke="#0000ff" stroke-width="1.0" stroke-linecap="butt"/>
<line x1="607.4" y1="464.87" x2="609.6" y2="464.87" stroke="#0000ff" stroke-width="1.0" stroke-linecap="butt"/>
<line x1="607.4" y1="463.16" x2="609.6" y2="463.16" stroke="#0000ff" stroke-width="1.0" stroke-linecap="butt"/>
<line x1="607.4" y1="461.49" x2="609.6" y2="461.49" stroke="#0000ff" stroke-width="1.0" stroke-linecap="butt"/>
<line x1="607.4" y1="459.87" x2="609.6" y2="459.87" stroke="#0000ff" stroke-width="1.0" stroke-linecap="butt"/>
<line x1="607.4" y1="458.3" x2="609.6" y2="458.3" stroke="#0000ff" stroke-width="1.0" stroke-linecap="butt"/>
<line x1="607.4" y1="456.76" x2="612" y2="456.76" stroke="#0000ff" stroke-width="1.2" stroke-linecap="butt"/>
<line x1="607.4" y1="455.26" x2="609.6" y2="455.26" stroke="#0000ff" stroke-width="1.0" stroke-linecap="butt"/>
<line x1="607.4" y1="453.79" x2="609.6" y2="453.79" stroke="#0000ff" stroke-width="1.0" stroke-linecap="butt"/>
<line x1="607.4" y1="452.36" x2="609.6" y2="452.36" stroke="#0000ff" stroke-width="1.0" stroke-linecap="butt"/>
<line x1="607.4" y1="450.97" x2="609.6" y2="450.97" stroke="#0000ff" stroke-width="1.0" stroke-linecap="butt"/>
<line x1="607.4" y1="449.6" x2="609.6" y2="449.6" stroke="#0000ff" stroke-width="1.0" stroke-linecap="butt"/>
<line x1="607.4" y1="448.27" x2="609.6" y2="448.27" stroke="#0000ff" stroke-width="1.0" stroke-linecap="butt"/>
<line x1="607.4" y1="446.96" x2="609.6" y2="446.96" stroke="#0000ff" stroke-width="1.0" stroke-linecap="butt"/>
<line x1="607.4" y1="445.68" x2="609.6" y2="445.68" stroke="#0000ff" stroke-width="1.0" stroke-linecap="butt"/>
<line x1="607.4" y1="444.43" x2="609.6" y2="444.43" stroke="#0000ff" stroke-width="1.0" stroke-linecap="butt"/>
<line x1="607.4" y1="443.2" x2="612" y2="443.2" stroke="#0000ff" stroke-width="1.2" stroke-linecap="butt"/>
<line x1="55.9" y1="582.3" x2="607.4" y2="582.3" stroke="#000" stroke-width="1.4" stroke-linecap="butt"/>
<line x1="55.9" y1="443.2" x2="607.4" y2="443.2" stroke="#000" stroke-width="1.4" stroke-linecap="butt"/>
<line x1="55.9" y1="442.6" x2="55.9" y2="582.9" stroke="#a0506a" stroke-width="1.5" stroke-linecap="butt"/>
<line x1="607.4" y1="442.6" x2="607.4" y2="582.9" stroke="#0000ff" stroke-width="1.6" stroke-linecap="butt"/>
<text transform="translate(24.62 587.31) scale(1.030 1)" font-size="14.60" stroke="#000" stroke-width="0.15"><tspan>0.0</tspan></text>
<text transform="translate(24.70 564.11) scale(1.030 1)" font-size="14.60" stroke="#000" stroke-width="0.15"><tspan>0.5</tspan></text>
<text transform="translate(24.62 540.91) scale(1.030 1)" font-size="14.60" stroke="#000" stroke-width="0.15"><tspan>1.0</tspan></text>
<text transform="translate(24.70 517.71) scale(1.030 1)" font-size="14.60" stroke="#000" stroke-width="0.15"><tspan>1.5</tspan></text>
<text transform="translate(24.62 494.51) scale(1.030 1)" font-size="14.60" stroke="#000" stroke-width="0.15"><tspan>2.0</tspan></text>
<text transform="translate(24.70 471.31) scale(1.030 1)" font-size="14.60" stroke="#000" stroke-width="0.15"><tspan>2.5</tspan></text>
<text transform="translate(24.62 448.11) scale(1.030 1)" font-size="14.60" stroke="#000" stroke-width="0.15"><tspan>3.0</tspan></text>
<text transform="translate(51.80 602.74) scale(1.030 1)" font-size="14.20" stroke="#000" stroke-width="0.15"><tspan>0</tspan></text>
<text transform="translate(158.19 602.74) scale(1.030 1)" font-size="14.20" stroke="#000" stroke-width="0.15"><tspan>40</tspan></text>
<text transform="translate(268.31 602.74) scale(1.030 1)" font-size="14.20" stroke="#000" stroke-width="0.15"><tspan>80</tspan></text>
<text transform="translate(374.33 602.74) scale(1.030 1)" font-size="14.20" stroke="#000" stroke-width="0.15"><tspan>120</tspan></text>
<text transform="translate(484.63 602.74) scale(1.030 1)" font-size="14.20" stroke="#000" stroke-width="0.15"><tspan>160</tspan></text>
<text transform="translate(595.11 602.74) scale(1.030 1)" font-size="14.20" stroke="#000" stroke-width="0.15"><tspan>200</tspan></text>
<text transform="translate(617.31 545.52) scale(1.060 1)" font-size="13.80" stroke="#000" stroke-width="0.15"><tspan>0.4</tspan></text>
<text transform="translate(617.31 503.40) scale(1.060 1)" font-size="13.80" stroke="#000" stroke-width="0.15"><tspan>0.8</tspan></text>
<text transform="translate(616.80 478.77) scale(1.060 1)" font-size="13.80" stroke="#000" stroke-width="0.15"><tspan>1.2</tspan></text>
<text transform="translate(616.80 461.29) scale(1.060 1)" font-size="13.80" stroke="#000" stroke-width="0.15"><tspan>1.6</tspan></text>
<text transform="translate(617.17 447.73) scale(1.060 1)" font-size="13.80" stroke="#000" stroke-width="0.15"><tspan>2.0</tspan></text>
<text transform="translate(306.54 613.70) scale(1.077 1)" font-size="14.21" stroke="#000" stroke-width="0.15"><tspan>Time (h)</tspan></text>
<text transform="translate(11.70 539.92) rotate(-90) scale(0.991 1)" font-size="14.64" stroke="#000" stroke-width="0.15"><tspan>Voltage (V)</tspan></text>
<text transform="translate(2.38 451.60) scale(1.037 1)" font-size="23.51" font-weight="bold" stroke="#000" stroke-width="0.15"><tspan>e</tspan></text>
<text transform="translate(660.30 574.30) rotate(-90) scale(0.926 1)" font-size="15.50" stroke="#000" stroke-width="0.15"><tspan>NH</tspan><tspan font-size="10.54" dy="4.65">3</tspan><tspan dy="-4.65"> production rate</tspan></text>
<text transform="translate(680.30 585.18) rotate(-90) scale(1.004 1)" font-size="15.50" stroke="#000" stroke-width="0.15"><tspan>( x 10</tspan><tspan font-size="10.54" dy="-5.89">-8</tspan><tspan dy="5.89"> mol s</tspan><tspan font-size="10.54" dy="-5.89">-1</tspan><tspan dy="5.89"> cm</tspan><tspan font-size="10.54" dy="-5.89">-2</tspan><tspan dy="5.89">)</tspan></text>
<line x1="54.4" y1="476.8" x2="134" y2="476.8" stroke="#000" stroke-width="1.3" stroke-linecap="butt" stroke-dasharray="3.2,2.2"/>
<line x1="124.5" y1="458.4" x2="124.5" y2="582.3" stroke="#000" stroke-width="1.3" stroke-linecap="butt" stroke-dasharray="3.2,2.2"/>
<polyline points="56,509.7 65,509.8 75,508.6 86.5,506.7 98,504 108.4,501.7 118,500 126,498.6" fill="none" stroke="#ff0000" stroke-width="7.6" stroke-linejoin="round" stroke-linecap="round"/>
<circle cx="60.9" cy="472.9" r="4.5" fill="#ff0000" stroke="none" stroke-width="0"/>
<circle cx="110.1" cy="472.4" r="4.5" fill="#ff0000" stroke="none" stroke-width="0"/>
<circle cx="124.5" cy="475.9" r="4.5" fill="#ff0000" stroke="none" stroke-width="0"/>
<circle cx="58.8" cy="484.7" r="4.5" fill="#ff0000" stroke="none" stroke-width="0"/>
<circle cx="71.9" cy="484.7" r="4.5" fill="#ff0000" stroke="none" stroke-width="0"/>
<polyline points="122.5,511.4 200,510.9 260,510.1 400,507.8 500,507.3 577.5,506.6" fill="none" stroke="#0000ff" stroke-width="7.6" stroke-linejoin="round" stroke-linecap="butt"/>
<polyline points="125,497.4 260,499.8 400,502.1 578.9,505.3" fill="none" stroke="#000" stroke-width="1.2" stroke-linejoin="round" stroke-linecap="butt" stroke-dasharray="3.2,2.2"/>
<rect x="122.2" y="505.3" width="6" height="6" fill="#8080ff" stroke="none" stroke-width="0"/>
<circle cx="127.2" cy="491.9" r="4.7" fill="#0000ff" stroke="none" stroke-width="0"/>
<circle cx="139.8" cy="498" r="4.7" fill="#0000ff" stroke="none" stroke-width="0"/>
<circle cx="175.6" cy="498.4" r="4.7" fill="#0000ff" stroke="none" stroke-width="0"/>
<circle cx="193.2" cy="499.8" r="4.7" fill="#0000ff" stroke="none" stroke-width="0"/>
<circle cx="241.6" cy="497.4" r="4.7" fill="#0000ff" stroke="none" stroke-width="0"/>
<circle cx="272.7" cy="499.5" r="4.7" fill="#0000ff" stroke="none" stroke-width="0"/>
<circle cx="308.9" cy="506.5" r="4.7" fill="#0000ff" stroke="none" stroke-width="0"/>
<circle cx="371.1" cy="502.8" r="4.7" fill="#0000ff" stroke="none" stroke-width="0"/>
<circle cx="440.7" cy="513.7" r="4.7" fill="#0000ff" stroke="none" stroke-width="0"/>
<circle cx="508.6" cy="500.2" r="4.7" fill="#0000ff" stroke="none" stroke-width="0"/>
<circle cx="574.1" cy="504.7" r="4.7" fill="#0000ff" stroke="none" stroke-width="0"/>
<rect x="311.1" y="511.1" width="6.6" height="6.6" fill="#0000ff" stroke="none" stroke-width="0"/>
<rect x="311.6" y="577.2" width="4.4" height="4.6" fill="#fff" stroke="#4040ff" stroke-width="1.0"/>
<text transform="translate(61.34 460.10) scale(1.120 1)" font-size="13.64" stroke="#000" stroke-width="0.15"><tspan>4000 mA·cm</tspan><tspan font-size="9.28" dy="-5.18">-2</tspan></text>
<line x1="124.5" y1="464.6" x2="75.8" y2="464.6" stroke="#000" stroke-width="1.2" stroke-linecap="butt"/>
<polygon points="65.8,464.6 76.8,461.4 76.8,467.8" fill="#000" stroke="none" stroke-width="0"/>
<text transform="translate(125.26 547.80) scale(1.154 1)" font-size="13.64" stroke="#000" stroke-width="0.15"><tspan>2500 mA cm</tspan><tspan font-size="9.28" dy="-5.18">-2</tspan></text>
<line x1="124.5" y1="552.3" x2="202.4" y2="552.3" stroke="#000" stroke-width="1.2" stroke-linecap="butt"/>
<polygon points="212.4,552.3 201.4,555.5 201.4,549.1" fill="#000" stroke="none" stroke-width="0"/>
<text transform="translate(457.68 468.50) scale(1.048 1)" font-size="14.79" stroke="#000" stroke-width="0.15"><tspan>600</tspan><tspan font-size="10.05" dy="-5.62">o</tspan><tspan dy="5.62">C, 20% steam</tspan></text>
<text transform="translate(320.05 533.00) scale(1.120 1)" font-size="13.64" stroke="#000" stroke-width="0.15"><tspan>Add water and change N</tspan><tspan font-size="9.28" dy="4.09">2</tspan><tspan dy="-4.09"> cylinder</tspan></text>
<line x1="329.3" y1="520.6" x2="321.77" y2="514.84" stroke="#000" stroke-width="1.2" stroke-linecap="butt"/>
<polygon points="317.8,511.8 324.15,513.38 320.98,517.51" fill="#000" stroke="none" stroke-width="0"/>
<polyline points="205.8,511 196,523.5 158,523.5" fill="none" stroke="#000" stroke-width="1.2" stroke-linejoin="round" stroke-linecap="butt"/>
<polygon points="149.6,523.5 159.6,520.5 159.6,526.5" fill="#000" stroke="none" stroke-width="0"/>
<polyline points="508.6,500.2 524,486.5 555,486.5" fill="none" stroke="#000" stroke-width="1.2" stroke-linejoin="round" stroke-linecap="butt"/>
<polygon points="564.5,486.5 554.5,489.5 554.5,483.5" fill="#000" stroke="none" stroke-width="0"/>
</svg>
</body></html>
